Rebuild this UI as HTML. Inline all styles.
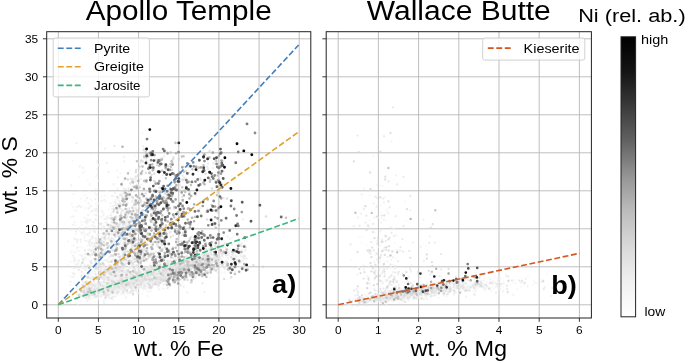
<!DOCTYPE html>
<html><head><meta charset="utf-8"><title>fig</title>
<style>html,body{margin:0;padding:0;background:#fff}svg{display:block;will-change:transform}text{font-family:"Liberation Sans",sans-serif;fill:#000}</style></head><body>
<svg width="685" height="362" viewBox="0 0 685 362">
<rect width="685" height="362" fill="#fff"/>
<defs>
<clipPath id="ca"><rect x="46.7" y="31.7" width="264.1" height="286.3"/></clipPath>
<clipPath id="cb"><rect x="326.2" y="31.7" width="265.2" height="286.3"/></clipPath>
<linearGradient id="cg" x1="0" y1="0" x2="0" y2="1"><stop offset="0" stop-color="#000"/><stop offset="0.125" stop-color="#141414"/><stop offset="0.25" stop-color="#3b3b3b"/><stop offset="0.375" stop-color="#636363"/><stop offset="0.5" stop-color="#959595"/><stop offset="0.625" stop-color="#bdbdbd"/><stop offset="0.75" stop-color="#d9d9d9"/><stop offset="0.875" stop-color="#f0f0f0"/><stop offset="1" stop-color="#fff"/></linearGradient>
</defs>
<path d="M58.30 31.7V318.0M98.45 31.7V318.0M138.60 31.7V318.0M178.75 31.7V318.0M218.90 31.7V318.0M259.05 31.7V318.0M299.20 31.7V318.0M46.7 304.80H310.8M46.7 266.80H310.8M46.7 228.80H310.8M46.7 190.80H310.8M46.7 152.80H310.8M46.7 114.80H310.8M46.7 76.80H310.8M46.7 38.80H310.8M338.20 31.7V318.0M378.40 31.7V318.0M418.60 31.7V318.0M458.80 31.7V318.0M499.00 31.7V318.0M539.20 31.7V318.0M579.40 31.7V318.0M326.2 304.80H591.4M326.2 266.80H591.4M326.2 228.80H591.4M326.2 190.80H591.4M326.2 152.80H591.4M326.2 114.80H591.4M326.2 76.80H591.4M326.2 38.80H591.4" stroke="#b8b8b8" stroke-width="0.9" fill="none"/>
<g clip-path="url(#ca)" fill="none" stroke-linecap="round">
<path stroke="rgb(251,251,251)" stroke-opacity="0.7" stroke-width="2.14" d="M120.5 281.7h0M125.5 288.5h0M116.9 289.6h0M97.1 291.5h0M117.6 284.5h0M117.4 294.7h0M125.5 284.8h0M131.6 278.7h0M131.2 279.6h0M133.4 270.6h0M94.7 293.6h0M121.4 281.3h0M113.3 283.7h0M102.9 293.4h0M138.1 282.2h0M164.2 273.5h0M106.6 290.1h0M131.6 279.8h0M124.7 275.9h0M118.1 294.4h0M123.1 279.2h0M123.8 280.1h0M113.1 291.4h0M107.2 296.0h0M155.1 277.8h0M101.7 296.9h0M124.4 279.8h0M135.3 281.1h0M124.1 295.5h0M107.2 290.4h0M124.2 281.3h0M108.2 292.6h0M144.3 277.4h0M130.7 280.6h0M121.8 288.4h0M157.2 269.4h0M127.7 277.0h0M128.3 277.2h0M126.3 278.7h0M131.5 276.0h0M85.5 295.5h0M112.8 287.2h0M95.1 292.5h0M144.5 274.6h0M140.2 287.5h0M142.6 282.9h0M115.8 279.3h0M145.7 273.4h0M126.7 285.3h0M129.4 285.3h0M143.4 281.1h0M242.7 244.2h0M131.2 285.0h0M104.6 287.9h0M138.8 285.8h0M105.5 286.8h0M133.1 284.3h0M98.1 290.5h0M111.1 282.8h0M139.3 283.1h0M95.4 295.4h0M129.0 277.5h0M136.6 284.5h0M119.4 293.3h0M114.4 290.6h0M106.1 291.0h0M94.2 293.2h0M137.5 281.1h0M108.3 295.9h0M92.2 295.3h0M82.9 297.5h0M117.7 285.7h0M161.6 274.2h0M121.0 288.2h0M131.2 286.1h0M99.1 286.1h0M130.4 285.2h0M137.8 293.0h0M123.4 287.6h0M142.3 271.1h0M91.3 298.6h0M99.3 292.5h0M129.5 294.7h0M127.1 293.8h0M120.0 286.9h0M141.8 279.3h0M127.2 283.7h0M138.8 284.7h0M107.7 283.2h0M92.1 298.6h0M129.9 277.1h0M100.0 287.8h0M177.9 266.1h0M139.6 282.7h0M72.8 297.1h0M129.6 279.0h0M173.8 274.4h0M148.7 273.1h0M140.0 277.6h0M127.1 277.8h0M83.7 264.8h0M104.7 292.1h0M99.8 292.0h0M78.3 285.2h0M91.8 293.6h0M170.2 276.0h0M113.4 288.7h0M116.7 288.2h0M126.0 289.0h0M122.7 284.8h0M128.1 281.3h0M131.0 283.6h0M76.5 299.0h0M245.3 261.7h0M106.9 287.7h0M98.7 298.1h0M125.9 272.7h0M149.1 268.0h0M93.0 267.8h0M101.0 277.2h0M93.7 271.1h0M155.9 270.2h0M241.5 258.4h0M85.7 207.0h0M127.9 281.2h0M124.5 290.6h0M113.0 256.3h0M211.1 266.8h0M137.2 291.9h0M96.7 290.9h0M134.5 284.2h0M131.9 273.2h0M163.4 272.6h0"/>
<path stroke="rgb(244,244,244)" stroke-opacity="0.7" stroke-width="2.22" d="M114.0 282.4h0M140.3 283.1h0M132.0 280.4h0M106.5 287.9h0M89.7 299.2h0M149.1 280.5h0M98.9 294.3h0M125.0 231.3h0M138.2 285.8h0M96.1 205.7h0M131.7 217.5h0M107.8 286.1h0M100.5 293.9h0M152.4 281.4h0M85.7 291.2h0M226.4 262.1h0M83.7 237.8h0M90.0 185.3h0M125.6 267.8h0M112.3 283.3h0M146.0 271.6h0M107.7 289.0h0M118.0 290.8h0M117.1 287.4h0M106.3 273.0h0M93.3 237.9h0M140.3 285.7h0M127.3 278.4h0M137.3 274.5h0M149.8 273.6h0M95.7 242.4h0M137.3 271.6h0M107.6 288.4h0M147.7 279.2h0M115.8 290.1h0M156.6 279.4h0M166.7 278.6h0M102.9 285.6h0M245.1 240.7h0M166.8 288.7h0M236.8 262.4h0M101.3 236.1h0M133.3 286.3h0M148.3 273.0h0M122.5 280.7h0M146.0 276.1h0M128.5 274.3h0M242.8 252.1h0M124.8 285.6h0M121.7 279.6h0M121.2 271.8h0M118.8 288.3h0M157.5 281.4h0M244.1 256.5h0M75.1 264.3h0M141.3 280.0h0M118.4 283.5h0M111.3 212.8h0M91.5 265.7h0M133.6 281.2h0M224.5 252.2h0M207.8 265.9h0M152.7 272.3h0M126.1 289.6h0M106.7 281.7h0M128.1 286.7h0M122.2 285.7h0M150.4 277.3h0M120.0 279.8h0M180.3 265.3h0M91.6 296.8h0M84.2 297.2h0M158.2 267.5h0M127.2 277.5h0M140.6 276.7h0M232.5 236.8h0M154.0 267.0h0M127.7 221.4h0M128.5 270.1h0M85.0 295.0h0M110.4 251.0h0M162.2 264.5h0M129.2 292.6h0M113.7 225.3h0M90.4 207.0h0M122.8 282.4h0M149.5 278.9h0M142.1 268.5h0M120.3 290.1h0M130.1 283.6h0M97.5 245.4h0M176.3 275.1h0M146.0 274.8h0M107.0 253.3h0M146.8 284.2h0M113.8 287.2h0M113.8 267.3h0M216.0 264.4h0M102.2 284.3h0M106.5 287.6h0M127.7 215.5h0M104.6 288.8h0M231.0 250.7h0M175.2 265.8h0M131.9 280.8h0M152.7 280.2h0M120.9 286.5h0M136.2 286.4h0M114.5 286.8h0M144.9 282.7h0M140.2 274.0h0M92.5 289.2h0M145.0 275.3h0M158.1 277.2h0M140.9 285.8h0M88.6 219.8h0M146.4 279.2h0M147.3 295.9h0M132.7 283.2h0M111.7 291.7h0M90.3 211.8h0M77.8 291.1h0M109.1 297.6h0M81.3 296.3h0M114.9 258.6h0M242.5 254.4h0M124.9 286.0h0M145.5 274.7h0M137.4 268.7h0M228.0 257.3h0M121.7 291.4h0M138.9 269.7h0M158.4 262.9h0M115.9 288.3h0M143.4 278.9h0M133.6 284.9h0M111.0 293.7h0M97.1 290.2h0M193.8 255.8h0M177.5 271.3h0M115.4 286.1h0M139.8 285.9h0M124.5 284.2h0M117.3 276.6h0M122.5 289.2h0M128.4 263.9h0M113.8 283.3h0M124.8 282.4h0M111.5 292.1h0M104.3 286.2h0M203.4 260.4h0M99.5 291.0h0M113.2 249.1h0M98.4 294.5h0M146.4 274.3h0M147.1 276.9h0M90.9 199.6h0M147.3 275.4h0M108.4 293.2h0M225.9 250.2h0M117.8 295.2h0M149.9 281.9h0M99.1 255.1h0M180.0 284.5h0M107.5 238.2h0M138.2 287.0h0M132.3 242.4h0M134.7 282.4h0M81.6 247.2h0M126.3 285.3h0M99.7 225.4h0M133.0 286.9h0M148.5 276.8h0M81.5 233.9h0M138.3 288.4h0M139.5 225.2h0M76.8 291.6h0M155.6 280.4h0M136.3 237.4h0M92.4 291.8h0M131.5 236.4h0M125.8 276.1h0M74.3 261.7h0M118.7 287.9h0M106.8 285.4h0M75.7 225.5h0M153.6 275.0h0M140.4 275.0h0M126.3 280.0h0M135.3 279.1h0M157.2 281.0h0M143.0 280.9h0M142.3 281.3h0M195.2 264.0h0M121.1 289.2h0M154.0 276.0h0M146.1 287.1h0M155.9 284.0h0M125.2 288.9h0M112.4 245.5h0M76.5 289.1h0M137.0 279.4h0M118.1 217.3h0M120.3 247.5h0M133.8 289.3h0M102.8 255.1h0M101.7 226.9h0M149.0 284.6h0M99.2 295.8h0M94.1 266.7h0M142.9 268.2h0M168.7 270.5h0M143.4 286.0h0M122.5 282.6h0M178.0 266.4h0M160.5 271.1h0M143.3 281.3h0M83.4 285.4h0M227.3 255.7h0M149.6 283.6h0M245.0 244.9h0M235.1 254.9h0M130.6 287.7h0M81.0 300.9h0M239.8 262.8h0M127.8 291.2h0M125.9 281.1h0M119.5 277.0h0M120.3 279.7h0M115.7 294.5h0M102.4 244.8h0M127.1 280.0h0M168.3 263.7h0M76.5 250.3h0M113.5 299.9h0M89.5 294.7h0M142.9 275.4h0M120.5 290.6h0M96.5 293.3h0M147.2 280.0h0M112.2 296.4h0M119.2 279.7h0M96.2 255.0h0M94.9 285.1h0M130.8 276.2h0M135.6 286.4h0M113.8 279.5h0M98.7 287.7h0M114.1 287.5h0M121.5 284.1h0M128.3 275.1h0M142.6 249.5h0M111.3 288.3h0M107.5 288.8h0M83.8 217.7h0M118.1 289.0h0M129.6 242.0h0M84.4 289.8h0M126.4 290.3h0M110.7 206.4h0M139.5 279.0h0M133.2 276.5h0M148.4 278.4h0M101.8 286.7h0M119.1 290.2h0M104.4 286.3h0M157.4 276.1h0M96.8 194.3h0M151.9 277.2h0M110.2 288.0h0M110.0 294.8h0M134.7 279.4h0M196.5 256.1h0M97.9 299.6h0M119.3 283.6h0M206.8 271.1h0M132.8 279.0h0M225.6 247.6h0M96.1 176.4h0M173.5 262.5h0M235.1 253.1h0M111.2 235.4h0M123.1 249.9h0M87.1 293.2h0M246.5 268.8h0M68.6 264.5h0M142.3 288.6h0M117.3 253.7h0M136.0 267.4h0M142.4 268.6h0M95.0 231.7h0M145.6 270.5h0M103.5 295.4h0M171.1 265.3h0M73.5 194.0h0M153.5 267.2h0M117.6 279.8h0M107.7 261.2h0M113.6 281.0h0M237.4 260.1h0M153.1 274.1h0M135.6 195.4h0M146.9 238.3h0M140.8 271.7h0M160.3 276.4h0M88.4 295.5h0M85.7 298.6h0M160.1 281.7h0M98.4 296.6h0M144.6 201.8h0M108.0 291.1h0M136.1 276.1h0M165.1 283.7h0M167.7 266.3h0M80.0 287.2h0M131.0 280.2h0M144.6 269.8h0M119.2 288.9h0M121.7 289.2h0M151.5 282.6h0M149.4 267.4h0M162.0 269.1h0M129.5 282.3h0M142.3 276.0h0M223.2 257.4h0M246.1 241.2h0M233.8 251.6h0M104.1 292.9h0M173.4 279.2h0M103.3 215.9h0M102.1 263.6h0M147.5 281.9h0M80.6 198.9h0M154.5 273.0h0M107.3 283.9h0M225.9 253.0h0M104.0 266.2h0M155.0 271.1h0M139.9 271.3h0M149.1 280.1h0M186.4 276.3h0M132.7 279.8h0M84.0 298.1h0M167.8 273.1h0M93.6 295.8h0M98.5 275.5h0M216.8 258.6h0M121.9 284.8h0M90.5 289.1h0M106.2 201.5h0M119.1 290.9h0M138.1 229.6h0M150.6 285.6h0M166.1 268.8h0M84.6 195.2h0M71.8 277.1h0M117.5 282.7h0M130.7 281.8h0M136.3 289.5h0M158.5 279.1h0M71.2 217.2h0M134.2 282.2h0M88.7 293.6h0M88.1 297.8h0M124.6 284.9h0M181.3 263.8h0M116.3 283.3h0M100.2 282.8h0M120.9 284.0h0M91.0 287.9h0M106.4 293.9h0M122.4 285.3h0M113.9 287.4h0M141.0 272.0h0M117.0 281.7h0M100.6 143.9h0M143.3 276.8h0M131.5 282.4h0M72.0 203.9h0M89.8 183.9h0M104.0 251.5h0M207.7 272.5h0M116.0 291.4h0M205.8 250.1h0M164.1 275.4h0M164.4 268.5h0M111.8 287.9h0M77.4 295.6h0M146.0 288.5h0M132.5 281.1h0M116.1 289.5h0M128.3 279.2h0M81.3 221.7h0M149.8 269.6h0M121.3 285.5h0M189.9 270.2h0M115.2 255.4h0M116.8 291.6h0M123.9 267.7h0M244.8 251.2h0M84.4 240.2h0M87.9 275.8h0M125.5 286.7h0M74.5 257.6h0M119.7 281.9h0M134.7 155.5h0M149.2 281.3h0M121.2 268.7h0M159.7 270.9h0M135.2 251.2h0M160.9 279.7h0M101.0 216.5h0M128.0 282.0h0M137.9 265.4h0M122.7 287.0h0M123.7 282.3h0M130.6 283.0h0M131.7 285.4h0M93.8 297.0h0M224.8 272.4h0M161.1 281.9h0M109.4 283.4h0M154.7 278.4h0M111.6 280.3h0M159.0 285.1h0M151.1 272.2h0M155.6 280.3h0M116.5 288.3h0M81.5 224.9h0M112.8 282.2h0M128.1 278.1h0M89.5 235.8h0M89.1 222.2h0M88.3 292.9h0M162.3 282.0h0M145.2 282.7h0M120.1 226.4h0M134.6 252.4h0M132.7 276.2h0M243.6 244.4h0M86.8 268.2h0M86.2 290.6h0M142.5 133.1h0M161.6 265.7h0M218.0 270.5h0M89.4 248.8h0M76.7 260.6h0M116.0 284.1h0M185.4 276.7h0M193.6 258.9h0M132.2 280.1h0M153.8 271.0h0M75.4 252.7h0M88.6 265.8h0M144.9 267.5h0M112.5 290.1h0M168.7 274.3h0M217.2 262.3h0M114.4 240.6h0M151.4 288.5h0M149.2 282.2h0M168.5 274.8h0M106.5 219.2h0M92.7 288.3h0M148.7 283.3h0M110.3 289.7h0M110.8 283.9h0M113.4 286.9h0M115.7 293.4h0M90.2 250.9h0M92.4 293.8h0M106.1 287.6h0M153.4 277.6h0M112.0 287.1h0M124.3 294.5h0M139.1 280.0h0M226.0 267.2h0M162.4 275.0h0M86.2 299.5h0M143.6 288.3h0M142.2 293.8h0M116.1 277.1h0M142.2 283.6h0M152.1 273.2h0M128.6 267.6h0M138.0 258.6h0M163.2 273.9h0M101.6 264.8h0M143.0 290.0h0M115.6 282.6h0M102.6 268.3h0M166.7 271.2h0M130.0 279.0h0M161.0 279.0h0M213.7 258.6h0M140.8 277.9h0M162.8 260.5h0M105.6 282.7h0M123.7 180.1h0M119.1 203.1h0M109.9 231.4h0M129.6 282.1h0M144.1 279.1h0M130.2 287.1h0M102.0 196.5h0M139.2 271.5h0M71.1 252.3h0M70.8 261.9h0M160.8 273.1h0M92.8 293.8h0M148.4 279.0h0M113.5 290.0h0M152.8 277.8h0M145.7 279.9h0M94.5 253.4h0M155.6 280.8h0M113.0 294.0h0M104.8 284.3h0M229.0 264.8h0M234.5 252.7h0M122.2 215.5h0M146.0 277.8h0M124.9 289.3h0M105.8 289.0h0M114.0 196.3h0M137.3 268.0h0M99.1 234.4h0M95.6 296.9h0M98.7 165.2h0M148.0 247.9h0M117.4 282.2h0M122.7 277.9h0M140.4 279.1h0M126.6 275.7h0M121.7 209.3h0M117.4 280.6h0M106.9 288.7h0M145.9 280.5h0M127.0 283.0h0M107.2 292.6h0M137.4 278.5h0M80.4 255.0h0M88.6 242.2h0M155.9 277.2h0M198.5 273.4h0M108.9 239.3h0M179.3 260.6h0M118.7 280.4h0M123.9 232.6h0M115.6 206.4h0M140.5 251.0h0M165.6 284.5h0M107.9 283.6h0M142.3 265.3h0M126.0 286.5h0M115.0 272.2h0M131.5 274.6h0M104.8 264.7h0M136.5 286.6h0M105.8 297.2h0M89.2 226.4h0M150.4 283.6h0M89.6 277.7h0M95.8 287.6h0M118.6 260.6h0M119.0 288.1h0M89.8 230.8h0M142.6 196.8h0M155.8 273.8h0M159.9 269.7h0M237.6 247.7h0M82.2 255.4h0M132.2 283.4h0M177.1 269.0h0M141.6 283.4h0M97.0 265.2h0M129.7 281.8h0M110.7 291.4h0M119.1 268.5h0M91.7 273.2h0M152.1 276.5h0M235.0 259.6h0M108.8 290.3h0M139.7 280.4h0M91.6 277.9h0M144.0 275.7h0M84.9 208.5h0M99.1 180.8h0M130.1 267.2h0M140.7 286.8h0M113.9 290.0h0M109.3 251.1h0M160.6 272.8h0M114.6 288.8h0M106.6 286.4h0M103.8 289.6h0M103.7 286.1h0M102.0 210.0h0M107.7 265.6h0M146.2 279.5h0M103.9 280.5h0M238.3 256.7h0M89.8 281.0h0M126.9 287.2h0M154.8 272.4h0M105.5 284.3h0M111.5 209.2h0M131.7 287.0h0M141.0 263.8h0M140.7 282.0h0M96.0 241.1h0M124.1 292.5h0M119.8 247.8h0M131.5 276.4h0M136.6 279.5h0M199.0 249.3h0M92.5 282.4h0M130.6 281.7h0M83.7 272.7h0M91.5 284.9h0M117.9 287.0h0M108.0 282.7h0M99.7 262.5h0M97.9 290.8h0M105.3 288.8h0M103.2 291.8h0M200.8 252.1h0M129.6 170.9h0M110.0 279.5h0M123.8 204.9h0M153.6 270.0h0M133.3 181.5h0M151.5 280.6h0M83.0 289.7h0M69.4 275.9h0M222.3 240.4h0M105.1 292.6h0M111.5 291.4h0M127.1 275.7h0M139.1 206.6h0M72.2 250.9h0M124.8 254.5h0M123.0 188.4h0M86.6 218.4h0M238.7 250.0h0M115.4 287.8h0M231.5 259.3h0M151.4 249.8h0M179.7 267.6h0M167.1 274.2h0M152.3 268.4h0M144.0 278.4h0M111.0 288.0h0M158.9 275.8h0M145.7 272.2h0M147.2 282.2h0M101.8 265.3h0M147.0 287.9h0M110.7 288.4h0M233.8 258.8h0M93.4 277.0h0M142.2 274.6h0M94.1 297.9h0M158.8 276.7h0M167.6 265.2h0M142.4 277.8h0M149.3 268.4h0M156.6 276.6h0M123.5 277.8h0M112.2 275.4h0M138.4 280.7h0M150.1 217.3h0M120.2 287.7h0M107.5 283.9h0M92.8 293.2h0M179.7 262.8h0M235.8 248.3h0M111.3 267.4h0M158.1 264.6h0M85.3 200.4h0M136.5 286.0h0M140.3 273.5h0M143.1 277.3h0M122.8 284.2h0M122.5 242.7h0M102.8 291.6h0M193.5 256.1h0M182.0 272.5h0M151.3 272.5h0M135.3 281.2h0M101.9 248.1h0M122.8 268.1h0M88.9 191.5h0M139.6 283.7h0M125.0 264.2h0M164.3 272.3h0M120.9 279.1h0M222.6 261.7h0M147.4 282.4h0M90.1 295.9h0M195.0 264.0h0M151.8 280.0h0M182.4 268.4h0M78.7 263.0h0M153.2 273.1h0M83.8 238.0h0M78.3 299.9h0M115.5 281.4h0M203.0 259.8h0M107.7 274.7h0M87.5 180.7h0M194.1 261.4h0M140.4 192.5h0M120.2 287.9h0M120.6 173.2h0M130.3 197.9h0M132.6 281.0h0M160.6 263.9h0M118.0 291.7h0M79.3 255.0h0M137.2 168.8h0M215.4 257.5h0M115.4 279.8h0M116.7 219.8h0M133.0 276.7h0M204.0 255.2h0M119.1 198.8h0M146.5 280.7h0M150.0 247.5h0M158.0 263.4h0M134.2 284.8h0M135.4 249.9h0M196.8 272.9h0M102.0 236.2h0M105.7 282.9h0M156.4 251.3h0M113.4 285.3h0M126.1 274.9h0M159.6 278.7h0M121.1 280.6h0M74.2 252.8h0M142.7 154.9h0M106.0 287.3h0M119.5 287.1h0M83.9 231.1h0M110.8 212.3h0M119.5 251.2h0M160.9 278.1h0M115.8 288.3h0M129.5 282.8h0M91.3 286.7h0M155.4 277.9h0M165.4 280.8h0M104.7 237.4h0M222.1 266.9h0M132.1 276.4h0M122.3 291.9h0M144.7 256.1h0M149.6 266.4h0M100.9 244.0h0M133.0 249.8h0M128.5 285.8h0M151.2 272.9h0M79.6 230.7h0M137.7 285.9h0M79.1 282.7h0M88.9 260.5h0M94.1 214.6h0M171.6 255.3h0M141.9 205.3h0M124.1 280.5h0M158.1 275.1h0M125.1 283.6h0M155.3 272.2h0M108.7 270.8h0M161.1 266.6h0M101.2 282.0h0M105.1 276.7h0M83.9 233.0h0M161.9 276.7h0M86.2 253.0h0M102.3 225.9h0M84.4 267.2h0M122.7 284.3h0M132.5 276.6h0M169.4 267.6h0M147.6 291.3h0M107.1 294.4h0M96.3 295.3h0M92.1 289.6h0M240.2 262.3h0M156.4 275.8h0M114.5 293.1h0M122.7 274.0h0M142.3 266.1h0M144.2 278.7h0M112.2 243.6h0M94.7 292.0h0M97.9 243.8h0M85.7 218.0h0M224.0 253.5h0M116.2 276.7h0M199.7 258.3h0M128.0 280.7h0M79.8 206.2h0M90.6 280.4h0M145.0 279.2h0M118.3 279.5h0M104.7 289.4h0M94.1 279.8h0M128.9 271.0h0M107.9 289.3h0M87.1 294.7h0M108.9 257.6h0M163.9 270.6h0M105.7 292.3h0M159.1 282.1h0M221.7 272.6h0M118.6 286.7h0M160.5 274.5h0M101.3 283.1h0M216.7 250.0h0M148.7 282.1h0M152.1 282.3h0M144.6 282.3h0M132.8 286.5h0M91.9 243.8h0M123.2 283.5h0M140.6 278.1h0M136.8 276.9h0M137.5 278.4h0M127.7 288.0h0M95.4 218.5h0M161.3 274.8h0M125.1 290.5h0M72.3 245.7h0M117.0 273.9h0M173.8 283.2h0M119.7 281.3h0M106.6 286.2h0M181.3 258.8h0M181.2 271.2h0M122.8 287.5h0M124.1 290.3h0M111.9 274.7h0M149.6 276.6h0M124.5 279.2h0M238.9 237.3h0M160.6 276.2h0M164.2 271.7h0M153.4 282.1h0M102.5 233.5h0M139.4 249.6h0M138.1 274.8h0M126.1 281.1h0M94.9 244.8h0M194.1 265.1h0M148.6 272.3h0M110.3 292.7h0M116.7 286.9h0M191.8 257.9h0M140.9 280.5h0M210.8 254.0h0M131.7 266.2h0M117.5 274.6h0M77.2 243.1h0M110.7 281.8h0M178.6 264.8h0M156.5 257.4h0M197.5 268.3h0M156.8 270.9h0M141.9 254.2h0M108.5 279.6h0M97.5 287.8h0M157.2 267.9h0M92.6 211.3h0M96.4 295.0h0M131.2 287.6h0M100.9 295.8h0M130.3 284.8h0M158.2 266.8h0M139.3 287.2h0M121.1 264.4h0M178.4 257.6h0M162.3 257.5h0M162.1 272.5h0M97.6 213.9h0M114.3 260.6h0M90.0 230.6h0M100.7 287.9h0M99.2 287.4h0M132.2 280.5h0M178.7 256.2h0M127.7 285.6h0M200.0 260.6h0M159.0 276.3h0M144.4 280.6h0M108.7 209.3h0M129.8 266.5h0M178.5 281.1h0M79.0 251.2h0M117.1 280.2h0M121.8 283.7h0M122.9 285.2h0M161.6 275.7h0M107.3 287.8h0M85.1 233.5h0M98.1 251.9h0M210.9 269.8h0M97.0 274.5h0M102.9 288.8h0M149.0 270.0h0M121.4 272.2h0M152.4 273.0h0M79.2 176.8h0M131.6 271.4h0M186.6 277.8h0M163.0 270.9h0M143.4 285.1h0M157.1 281.3h0M156.5 281.2h0M149.9 276.7h0M130.1 286.3h0M172.6 267.0h0M130.9 278.6h0M128.3 281.2h0M160.0 278.1h0M233.5 270.0h0M146.4 275.1h0M124.8 287.8h0M140.4 283.9h0M90.1 262.5h0M114.2 284.2h0M95.9 203.2h0M227.4 259.9h0M123.5 261.1h0M132.5 212.1h0M142.7 259.3h0M157.6 267.3h0M168.7 281.5h0M138.4 278.5h0M229.3 272.0h0M224.0 244.6h0M168.0 262.4h0M150.2 263.9h0M205.0 269.3h0M136.9 275.2h0M97.2 286.9h0M129.7 284.4h0M137.7 199.4h0M116.3 215.9h0M113.6 262.8h0M88.9 277.5h0M142.7 271.6h0M153.0 275.7h0M159.5 271.0h0M107.8 290.4h0M91.5 275.3h0M80.3 240.1h0M102.4 256.2h0M115.9 286.5h0M218.5 263.2h0M105.4 255.5h0M112.8 286.3h0M119.5 240.4h0M152.8 278.8h0M227.9 258.4h0M109.3 259.0h0M148.9 279.7h0M119.7 279.1h0M151.1 276.1h0M108.3 286.6h0M109.9 282.6h0M160.3 275.2h0M94.2 266.0h0M122.2 217.0h0M76.1 233.9h0M106.7 271.5h0M132.3 271.1h0M143.9 275.1h0M153.0 274.5h0M150.5 278.1h0M121.3 284.7h0M112.9 266.4h0M131.3 262.1h0M87.1 265.3h0M132.3 280.9h0M236.2 265.5h0M74.5 210.4h0M131.5 267.6h0M161.5 274.0h0M150.7 278.2h0M137.5 285.3h0M114.0 292.6h0M109.7 240.0h0M138.7 233.2h0M72.8 206.9h0M126.9 289.3h0M127.0 288.5h0M161.8 268.9h0M228.7 250.8h0M105.9 286.8h0M156.6 276.2h0M148.4 272.7h0M131.0 284.1h0M174.0 266.5h0M122.0 217.3h0M157.9 283.9h0M93.6 287.9h0M120.0 253.8h0M96.8 296.6h0M233.2 256.2h0M129.9 285.5h0M87.7 245.8h0M141.6 252.5h0M106.6 259.4h0M163.1 267.4h0M73.9 245.3h0M106.1 286.5h0M165.6 277.5h0M144.9 274.9h0M122.7 284.2h0M145.9 273.7h0M84.8 294.5h0M144.1 277.4h0M98.6 296.0h0M103.6 239.6h0M99.5 277.3h0M161.5 270.6h0M148.2 278.3h0M94.7 193.1h0M91.5 269.4h0M129.2 285.9h0M158.9 278.9h0M96.0 283.8h0M84.4 234.9h0M157.9 244.6h0M126.4 277.6h0M119.1 289.6h0M114.5 267.2h0M82.2 294.3h0M159.2 273.8h0M91.6 276.6h0M105.4 288.2h0M167.0 267.6h0M149.6 281.2h0M162.7 272.3h0M221.7 264.5h0M185.3 262.8h0M145.3 279.4h0M147.6 285.0h0M89.5 284.8h0M89.3 290.6h0M119.4 288.6h0M111.3 256.9h0M131.8 202.6h0M112.9 222.3h0M235.0 261.9h0M134.7 213.8h0M86.6 274.5h0M88.7 295.1h0M134.8 215.2h0M150.0 191.3h0M164.7 266.5h0M116.8 292.4h0M185.8 271.2h0M100.4 270.8h0M142.7 251.1h0M151.8 278.3h0M105.6 286.8h0M138.7 275.8h0M149.5 256.7h0M124.9 251.0h0M141.3 287.0h0M120.4 286.0h0M168.8 276.6h0M112.9 280.9h0M108.4 232.8h0M131.9 250.7h0M151.3 287.0h0M152.8 273.6h0M123.9 285.5h0M164.3 269.6h0M148.7 282.9h0M104.7 195.9h0M218.1 247.2h0M125.7 271.6h0M117.1 170.6h0M166.7 263.8h0M143.4 270.5h0M133.6 284.3h0M117.6 284.0h0M112.7 289.5h0M160.7 257.9h0M85.1 250.2h0M217.0 273.0h0M155.0 278.5h0M176.8 279.9h0M136.9 265.4h0M124.8 288.9h0M143.9 279.4h0M130.6 213.6h0M137.6 279.1h0M137.9 275.9h0M97.8 264.9h0M82.2 266.7h0M206.8 265.9h0M120.4 282.7h0M90.5 286.6h0M92.3 282.3h0M83.7 259.7h0M123.9 237.1h0M94.5 291.2h0M161.2 276.8h0M158.4 255.9h0M148.8 291.6h0M209.2 259.8h0M132.6 287.8h0M147.4 272.2h0M144.0 280.1h0M148.9 279.0h0M193.1 273.7h0M234.9 271.9h0M196.1 255.8h0M102.6 291.9h0M154.3 274.2h0M78.8 247.1h0M231.2 260.3h0M104.8 249.9h0M86.4 259.6h0M81.8 269.3h0M163.0 274.9h0M87.7 297.0h0M175.4 270.5h0M234.9 253.6h0M148.8 279.5h0M154.0 275.1h0M129.0 251.8h0M119.8 289.4h0M86.3 296.0h0M111.7 289.3h0M111.0 271.1h0M94.1 288.2h0M125.4 285.7h0M238.7 245.5h0M151.0 279.0h0M92.1 262.5h0M111.3 273.3h0M137.7 283.2h0M172.8 275.3h0M123.7 287.6h0M142.4 175.1h0M97.7 230.5h0M139.2 244.8h0M127.0 285.7h0M166.3 282.2h0M229.2 248.3h0M159.7 270.0h0M132.2 277.7h0M100.8 283.4h0M174.0 274.0h0M146.5 289.1h0M137.4 278.3h0M83.2 292.3h0M83.2 294.6h0M148.1 241.5h0M163.9 211.1h0M102.2 269.0h0M214.2 253.2h0M90.0 274.4h0M144.3 285.9h0M112.0 261.8h0M92.5 272.6h0M117.2 289.3h0M143.3 282.9h0M149.2 234.4h0M163.6 271.7h0M96.2 269.2h0M130.7 258.2h0M133.6 236.0h0M139.7 270.4h0M92.9 236.7h0M148.6 244.9h0M242.6 249.6h0M122.5 227.3h0M97.7 261.3h0M171.6 275.2h0M133.5 239.3h0M111.3 219.9h0M183.1 265.7h0M128.3 222.7h0M119.6 207.2h0M189.6 267.5h0M146.1 279.4h0M114.2 207.6h0M122.7 283.7h0M89.8 288.1h0M146.4 277.7h0M103.2 228.1h0M80.3 294.5h0M100.6 291.8h0M90.7 154.6h0M101.3 282.6h0M124.5 227.2h0M116.9 262.0h0M140.5 284.5h0M143.5 275.5h0M125.0 268.2h0M159.4 280.7h0M112.6 289.9h0M140.5 274.7h0M128.8 272.3h0M121.2 287.3h0M151.0 277.7h0M126.2 288.2h0M144.8 284.0h0M207.6 260.3h0M95.8 276.7h0M98.1 266.1h0M200.4 272.6h0M128.2 272.7h0M100.6 240.6h0M153.4 281.3h0M132.3 281.5h0M76.2 211.2h0M216.5 257.7h0M69.8 285.1h0M106.8 286.1h0M147.2 276.9h0M156.9 275.3h0M181.3 189.2h0M94.1 223.1h0M133.0 277.4h0M142.8 276.4h0M183.0 282.4h0M158.6 273.8h0M159.8 268.7h0M117.9 256.8h0M96.0 195.1h0M120.4 275.2h0M150.6 291.0h0M123.6 291.2h0M122.2 281.4h0M162.2 261.3h0M223.8 240.9h0M235.3 240.6h0M176.3 269.4h0M239.1 250.7h0M158.0 287.5h0M146.0 278.5h0M97.2 248.4h0M196.1 259.7h0M217.6 261.3h0M142.8 276.7h0M93.6 282.7h0M165.5 271.4h0M108.0 283.8h0M97.3 277.9h0M232.8 251.9h0M153.5 285.7h0M115.6 274.3h0M213.4 254.7h0M112.9 256.3h0M98.7 203.5h0M101.2 269.5h0M138.1 275.7h0M114.2 269.5h0M154.3 274.8h0M154.1 279.0h0M160.4 271.3h0M141.2 253.9h0M102.4 285.9h0M186.3 271.1h0M137.8 273.1h0M127.8 258.6h0M143.0 278.5h0M70.4 230.1h0M146.9 285.5h0M121.7 283.2h0M83.8 171.7h0M148.3 269.6h0M72.4 160.8h0M196.1 258.3h0M104.4 271.8h0M155.0 259.7h0M139.1 280.0h0M171.3 268.9h0M98.6 270.4h0M173.7 267.5h0M164.6 272.9h0M106.3 221.8h0M223.6 246.3h0M142.1 273.3h0M131.5 285.2h0M97.3 237.7h0M81.0 242.2h0M141.2 278.2h0M144.4 284.6h0M100.8 224.2h0M226.2 250.1h0M94.2 230.8h0M159.1 273.8h0M137.0 285.7h0M170.7 273.0h0M140.5 283.8h0M149.7 276.4h0M103.3 261.2h0M152.5 267.7h0M121.5 288.9h0M147.8 268.0h0M68.1 241.5h0M122.7 281.4h0M84.6 236.5h0M135.9 273.1h0M212.9 262.6h0M100.2 291.3h0M160.5 273.7h0M166.5 276.2h0M115.3 279.2h0M92.9 230.5h0M163.1 275.4h0M212.0 264.0h0M162.5 273.9h0M122.9 186.1h0M156.4 270.0h0M170.6 270.1h0M120.1 271.1h0M119.2 281.4h0M154.9 265.8h0M155.7 282.4h0M115.7 282.7h0M165.2 270.3h0M121.7 185.4h0M170.2 275.6h0M148.9 236.1h0M154.5 278.2h0M129.7 277.8h0M122.6 281.4h0M90.0 292.0h0M140.2 273.9h0M82.9 267.9h0M154.0 278.4h0M174.6 279.4h0M126.3 282.2h0M123.5 204.0h0M166.3 256.3h0M115.0 261.6h0M106.5 289.7h0M98.7 296.4h0M158.5 280.9h0M138.4 287.3h0M149.5 284.3h0M121.1 240.0h0M133.2 273.3h0M90.7 272.6h0M125.4 284.2h0M84.6 297.0h0M78.3 262.2h0M135.6 221.9h0M185.2 266.2h0M182.7 272.0h0M132.7 291.6h0M172.8 277.8h0M227.9 250.9h0M102.1 291.4h0M74.9 273.4h0M109.1 265.1h0M210.1 277.7h0M95.6 302.0h0M225.8 266.3h0M166.5 236.3h0M91.8 200.5h0M123.1 242.4h0M117.3 286.6h0M136.2 281.0h0M172.5 262.0h0M121.9 222.6h0M115.6 288.3h0M106.5 273.1h0M98.1 275.0h0M112.2 284.7h0M155.3 273.9h0M160.2 278.8h0M128.6 281.1h0M125.9 264.2h0M130.5 282.8h0M198.0 266.1h0M146.2 273.2h0M150.4 238.9h0M117.7 293.2h0M167.1 269.5h0M131.2 281.3h0M127.4 210.7h0M193.1 258.3h0M87.1 223.8h0M157.9 211.4h0M217.9 264.9h0M122.0 283.6h0M107.1 230.0h0M118.5 285.8h0M83.8 293.0h0M140.2 265.8h0M98.9 295.2h0M158.6 271.5h0M109.1 285.2h0M115.8 282.2h0M90.7 290.9h0M152.4 280.8h0M117.8 285.5h0M144.3 275.4h0M125.0 275.6h0M123.3 237.1h0M114.6 290.7h0M120.6 287.5h0M173.8 281.7h0M106.9 190.9h0M181.8 157.5h0M99.4 288.2h0M226.2 254.3h0M132.0 283.5h0M159.2 272.7h0M139.4 186.8h0M155.8 273.4h0M162.1 278.6h0M127.8 289.2h0M110.4 279.4h0M156.2 273.6h0M215.7 250.1h0M124.9 253.7h0M105.4 299.2h0M152.9 242.0h0M137.1 276.5h0M143.2 269.2h0M131.9 217.8h0M209.3 270.4h0M97.4 261.2h0M127.2 276.6h0M132.8 200.8h0M101.3 283.8h0M101.0 217.6h0M90.1 295.9h0M87.4 220.5h0M88.8 288.2h0M222.6 254.9h0M118.3 250.1h0M109.3 271.3h0M220.4 266.6h0M138.2 185.4h0M137.3 294.0h0M122.0 287.9h0M115.0 246.0h0M95.6 246.6h0M197.3 271.4h0M146.5 279.4h0M146.3 277.8h0M162.3 279.9h0M147.4 286.5h0M160.4 274.5h0M83.2 173.0h0M150.4 278.1h0M135.9 287.2h0M93.9 252.6h0M120.5 277.0h0M148.7 281.6h0M142.9 254.9h0M148.0 267.3h0M129.9 253.3h0M101.6 254.8h0M179.3 266.7h0M109.4 281.3h0M142.6 281.1h0M99.5 285.1h0M126.8 237.7h0M150.5 280.5h0M225.7 255.1h0M130.8 279.6h0M141.2 282.3h0M98.7 240.2h0M178.5 266.7h0M101.9 230.4h0M139.6 280.8h0M114.6 262.6h0M110.6 215.7h0M215.7 264.3h0M114.0 286.9h0M131.8 284.8h0M243.3 235.5h0M158.2 276.4h0M114.7 285.2h0M159.6 274.9h0M222.0 261.9h0M150.8 280.0h0M127.0 277.1h0"/>
<path stroke="rgb(234,234,234)" stroke-opacity="0.7" stroke-width="2.31" d="M131.4 280.0h0M136.1 181.7h0M170.1 275.4h0M120.5 278.5h0M161.7 277.8h0M155.9 198.9h0M113.5 184.3h0M134.1 229.5h0M126.6 245.8h0M226.5 255.3h0M199.3 249.0h0M173.5 272.3h0M196.9 256.7h0M131.0 277.0h0M148.5 286.6h0M194.5 272.5h0M78.8 205.9h0M126.9 282.4h0M115.3 245.0h0M174.6 270.1h0M133.7 271.6h0M132.9 236.9h0M101.7 250.9h0M164.6 269.6h0M178.1 264.6h0M137.0 276.6h0M140.6 273.2h0M140.0 278.1h0M208.1 264.6h0M172.1 272.7h0M140.3 279.0h0M101.1 296.7h0M98.6 269.2h0M132.2 264.3h0M164.1 259.2h0M92.1 236.7h0M164.9 276.5h0M105.6 282.8h0M158.6 262.4h0M111.2 286.9h0M220.5 258.9h0M141.3 281.2h0M166.6 269.5h0M79.6 289.5h0M100.8 288.3h0M121.6 272.8h0M116.0 203.4h0M105.5 235.3h0M140.7 277.3h0M161.2 249.0h0M107.6 292.4h0M81.7 255.8h0M108.8 282.9h0M135.8 285.9h0M74.0 261.3h0M123.7 271.9h0M135.6 268.9h0M162.9 278.2h0M212.8 257.2h0M106.8 280.5h0M165.2 200.6h0M96.5 208.9h0M225.8 253.4h0M120.6 262.8h0M132.6 284.9h0M143.8 282.9h0M211.7 173.3h0M134.5 279.8h0M111.0 267.0h0M119.0 284.9h0M146.3 271.7h0M74.1 268.2h0M103.3 237.7h0M116.9 210.9h0M191.0 263.7h0M86.5 288.3h0M95.8 238.1h0M195.7 269.3h0M116.7 293.1h0M97.6 174.4h0M138.7 287.9h0M71.0 185.3h0M164.9 272.7h0M122.0 264.4h0M103.6 282.1h0M103.3 277.5h0M144.2 286.3h0M156.8 270.2h0M155.3 283.2h0M103.8 300.8h0M101.2 283.4h0M122.5 286.2h0M90.4 219.8h0M225.8 269.2h0M218.9 251.1h0M100.3 274.5h0M220.3 248.2h0M82.9 282.3h0M154.9 284.4h0M115.7 283.2h0M188.9 173.0h0M200.8 264.8h0M123.5 193.2h0M135.0 179.1h0M134.8 286.9h0M147.9 276.1h0M106.8 287.7h0M216.7 261.3h0M148.2 280.0h0M78.4 266.6h0M162.4 279.4h0M236.2 259.3h0M141.6 275.2h0M123.5 277.5h0M84.5 286.0h0M119.4 283.8h0M124.3 161.4h0M159.9 231.1h0M148.7 278.4h0M87.4 292.3h0M184.2 268.6h0M124.2 257.7h0M126.6 280.3h0M230.7 269.4h0M141.3 283.7h0M111.8 283.3h0M123.6 245.1h0M152.5 240.1h0M92.3 238.4h0M192.0 276.0h0M178.7 174.9h0M103.6 214.3h0M74.8 268.0h0M72.8 273.2h0M140.5 247.1h0M114.1 288.5h0M153.2 280.5h0M134.1 240.1h0M149.2 269.5h0M173.8 274.3h0M86.0 227.5h0M165.0 272.8h0M170.9 273.0h0M86.3 240.9h0M126.6 279.6h0M151.9 273.4h0M161.2 278.6h0M240.9 256.0h0M210.1 263.0h0M113.5 283.5h0M92.2 243.4h0M102.3 211.7h0M144.4 287.7h0M126.5 210.2h0M104.4 245.3h0M122.5 285.4h0M114.9 252.2h0M108.2 238.5h0M216.7 248.5h0M153.6 270.0h0M104.7 268.1h0M102.3 249.4h0M121.5 246.9h0M170.1 260.8h0M208.6 270.3h0M228.8 270.1h0M122.3 280.3h0M92.4 225.3h0M116.8 280.8h0M243.9 263.6h0M145.5 249.5h0M178.4 274.0h0M149.5 280.5h0M169.8 267.9h0M132.2 289.4h0M112.7 290.6h0M98.2 264.3h0M172.0 264.5h0M138.8 172.4h0M211.7 248.1h0M164.9 268.5h0M126.8 282.9h0M81.8 232.7h0M106.6 162.9h0M112.0 227.0h0M170.4 269.8h0M148.1 235.1h0M120.6 279.4h0M215.1 254.7h0M160.4 236.0h0M147.6 251.1h0M160.0 265.6h0M119.1 245.2h0M89.5 277.6h0M84.8 296.3h0M106.3 284.7h0M161.3 271.6h0M103.4 288.0h0M224.0 171.1h0M76.7 207.3h0M116.7 226.3h0M166.6 275.8h0M178.9 269.5h0M164.1 267.8h0M100.9 270.9h0M129.9 268.2h0M228.6 255.3h0M123.1 286.7h0M100.5 269.1h0M137.0 281.2h0M128.1 242.7h0M126.5 279.2h0M105.2 274.8h0M183.6 286.9h0M115.9 246.9h0M87.6 220.6h0M162.1 236.3h0M114.9 284.8h0M125.8 284.7h0M152.9 280.5h0M130.2 280.4h0M166.9 271.7h0M156.4 241.1h0M107.3 291.4h0M126.2 297.4h0M129.5 268.2h0M104.7 276.9h0M103.6 263.5h0M170.9 262.9h0M157.0 243.6h0M168.9 276.1h0M115.4 274.4h0M130.7 287.6h0M166.1 270.2h0M121.2 284.5h0M178.0 279.3h0M97.7 261.1h0M117.9 291.4h0M104.4 219.1h0M104.9 274.3h0M180.9 179.4h0M245.5 249.9h0M85.3 291.5h0M104.4 292.1h0M105.5 286.0h0M201.9 259.7h0M96.3 259.5h0M144.8 243.9h0M82.5 291.9h0M92.6 249.8h0M152.2 236.3h0M108.7 287.3h0M192.4 272.7h0M152.6 240.7h0M184.3 278.5h0M135.9 277.8h0M98.2 247.6h0M114.2 276.3h0M96.0 239.4h0M123.5 288.2h0M134.2 267.0h0M84.2 267.8h0M224.8 263.4h0M156.7 265.6h0M231.5 245.0h0M88.6 295.1h0M106.5 278.2h0M105.1 239.3h0M196.9 264.0h0M166.1 267.8h0M244.7 267.8h0M94.9 209.3h0M93.9 245.7h0M244.0 265.5h0M117.0 279.3h0M94.1 253.6h0M127.8 277.4h0M202.3 263.7h0M132.6 283.2h0M132.7 284.4h0M110.2 290.4h0M145.8 279.3h0M73.4 216.4h0M112.1 195.9h0M115.3 262.2h0M142.6 279.1h0M105.1 148.7h0M106.3 289.0h0M134.4 276.3h0M141.8 274.3h0M111.6 276.6h0M166.6 269.5h0M182.6 274.7h0M81.0 291.9h0M140.0 162.9h0M124.8 280.7h0M101.3 278.2h0M179.9 274.9h0M114.4 291.0h0M127.6 220.9h0M122.6 256.2h0M84.9 291.8h0M118.2 290.6h0M80.8 264.7h0M144.8 287.5h0M139.2 276.8h0M103.4 286.7h0M101.5 201.0h0M131.7 283.5h0M143.9 271.5h0M159.5 270.8h0M184.6 268.0h0M132.6 245.9h0M98.9 282.9h0M96.2 292.4h0M104.0 303.6h0M136.0 275.1h0M184.4 272.2h0M125.7 287.5h0M113.1 206.1h0M163.3 288.7h0M96.1 215.2h0M227.5 236.6h0M135.7 275.1h0M110.2 291.7h0M159.7 253.1h0M122.0 227.5h0M104.4 238.5h0M140.4 225.9h0M111.7 248.0h0M124.7 252.5h0M83.5 279.1h0M85.5 276.4h0M92.5 249.6h0M111.2 289.2h0M87.5 290.4h0M147.9 269.8h0M174.6 271.0h0M121.0 241.1h0M144.3 276.4h0M119.6 285.7h0M129.4 279.4h0M91.0 251.3h0M143.2 277.7h0M101.7 275.5h0M159.9 271.0h0M95.6 277.2h0M163.3 242.4h0M94.6 288.9h0M97.4 169.5h0M146.9 279.0h0M112.0 278.5h0M158.6 277.1h0M119.3 208.2h0M138.7 274.5h0M92.4 210.8h0M150.3 277.4h0M93.6 293.5h0M142.1 250.3h0M216.2 260.4h0M185.0 260.2h0M174.8 278.7h0M122.5 252.6h0M96.4 292.1h0M93.9 277.8h0M156.5 279.4h0M241.4 250.6h0M113.7 239.4h0M101.4 249.0h0M121.5 294.0h0M217.3 256.5h0M243.1 219.4h0M159.5 262.1h0M120.1 283.6h0M129.6 221.5h0M137.7 267.7h0M114.6 281.2h0M182.5 267.1h0M112.9 296.9h0M88.6 288.1h0M94.0 293.6h0M206.7 262.9h0M98.9 291.0h0M96.6 284.3h0M142.3 261.2h0M93.3 277.1h0M173.4 278.4h0M226.2 252.9h0M128.7 187.9h0M134.2 286.8h0M84.6 265.4h0M245.8 258.9h0M87.6 292.4h0M94.5 271.4h0M101.1 290.8h0M101.6 267.2h0M95.2 287.5h0M137.9 279.8h0M181.0 269.0h0M122.2 264.3h0M112.4 275.7h0M170.6 266.0h0M198.2 261.1h0M216.6 266.9h0M153.7 215.3h0M91.4 293.1h0M195.8 275.1h0M138.6 280.0h0M90.7 239.1h0M129.9 231.6h0M144.5 281.0h0M98.7 285.2h0M144.4 282.2h0M143.2 276.8h0M176.0 213.8h0M102.6 271.2h0M110.4 281.4h0M117.4 265.1h0M130.3 282.2h0M132.3 285.8h0M143.1 146.2h0M131.2 286.0h0M110.8 271.0h0M116.0 283.1h0M158.5 277.0h0M141.6 184.6h0M157.1 270.1h0M163.3 280.7h0M176.9 230.1h0M157.4 274.5h0M202.1 266.4h0M139.6 276.9h0M111.3 287.4h0M89.5 240.7h0M73.0 255.8h0M161.4 274.5h0M154.6 272.4h0M180.4 261.8h0M139.5 287.3h0M196.0 262.9h0M147.9 273.0h0M150.2 282.1h0M117.3 188.8h0M79.8 166.4h0M153.3 271.8h0M81.3 207.1h0M113.3 241.9h0M117.4 209.4h0M161.3 261.5h0M107.2 287.5h0M172.5 266.9h0M98.3 290.6h0M127.6 202.4h0M105.5 275.9h0M189.5 262.9h0M150.8 266.1h0M129.8 210.3h0M131.1 243.6h0M137.9 257.5h0M89.3 244.5h0M175.0 278.4h0M168.5 277.6h0M155.6 269.3h0M119.9 287.4h0M116.9 273.5h0M117.5 269.2h0M170.1 272.8h0M155.0 270.6h0M103.6 290.1h0M120.6 288.3h0M77.9 305.1h0M116.5 200.0h0M154.5 273.7h0M113.5 217.3h0M224.1 262.8h0M120.5 284.3h0M92.9 222.1h0M164.5 279.3h0M155.8 269.1h0M95.8 220.0h0M91.1 278.4h0M98.8 165.5h0M86.7 277.0h0M87.1 289.3h0M93.6 259.2h0M100.8 291.1h0M108.0 291.3h0M81.9 280.4h0M243.6 258.7h0M238.1 253.5h0M142.5 280.9h0M118.3 282.8h0M163.0 279.6h0M84.2 284.6h0M202.3 260.0h0M85.8 221.4h0M166.8 278.1h0M118.9 275.9h0M117.3 232.6h0M178.8 266.2h0M108.7 226.7h0M130.4 249.0h0M136.2 275.6h0M123.7 202.5h0M161.2 257.0h0M101.8 287.4h0M174.5 269.6h0M119.3 226.9h0M110.4 203.3h0M135.4 234.7h0M131.5 243.5h0M74.4 258.4h0M139.5 286.2h0M138.8 285.3h0M111.0 215.2h0M87.9 292.4h0M201.5 270.5h0M117.5 265.7h0M178.6 213.9h0M105.8 291.4h0M175.7 273.3h0M127.8 211.0h0M123.1 285.5h0M162.5 277.2h0M105.7 222.8h0M73.3 224.9h0M81.5 271.7h0M142.4 277.6h0M128.5 232.3h0M83.4 285.1h0M193.7 261.0h0M194.7 271.3h0M167.4 280.8h0M155.5 224.9h0M155.5 259.3h0M90.5 289.4h0M139.1 280.7h0M112.6 284.0h0M97.7 285.6h0M170.3 261.9h0M100.2 275.1h0M129.1 284.9h0M77.1 264.5h0M118.5 290.5h0M115.5 205.2h0M185.9 276.8h0M124.8 241.0h0M82.9 167.8h0M198.7 261.7h0M116.1 274.5h0M132.1 284.6h0M152.5 270.4h0M218.3 195.2h0M204.1 263.2h0M103.4 229.2h0M111.5 243.5h0M135.1 239.0h0M131.9 275.3h0M131.1 266.4h0M77.2 247.7h0M71.7 229.3h0M189.6 260.5h0M117.4 204.4h0M147.0 225.6h0M166.2 272.6h0M134.7 279.3h0M158.5 284.8h0M136.8 176.9h0M169.8 276.7h0M153.6 260.6h0M142.6 281.4h0M142.9 282.5h0M149.7 269.1h0M113.6 284.5h0M101.1 251.7h0M144.2 202.2h0M146.0 274.9h0M143.4 204.7h0M202.5 266.1h0M99.2 286.1h0M136.2 233.6h0M126.3 291.2h0M121.1 243.7h0M105.4 245.0h0M165.4 271.8h0M167.2 284.3h0M206.8 261.2h0M118.7 282.4h0M98.8 255.7h0M84.8 250.5h0M110.9 255.1h0M136.3 291.5h0M157.7 281.8h0M209.9 245.5h0M141.5 281.0h0M189.3 262.8h0M92.1 236.8h0M120.5 263.4h0M172.1 271.6h0M131.3 288.9h0M134.5 279.2h0M241.0 262.0h0M159.2 282.7h0M113.7 274.1h0M129.9 277.2h0M152.4 286.3h0M99.0 289.7h0M135.9 200.1h0M116.1 245.7h0M99.4 290.0h0M103.1 277.2h0M96.2 254.2h0M176.1 270.1h0M169.1 266.8h0M136.1 289.2h0M157.2 281.2h0M138.7 261.2h0M95.7 189.7h0M108.5 172.0h0M147.7 232.9h0M121.2 237.8h0M221.7 187.1h0M158.5 277.3h0M94.2 283.7h0M105.0 233.2h0M143.6 284.7h0M183.4 275.3h0M97.6 264.8h0M139.6 175.4h0M94.3 242.9h0M136.3 274.5h0M110.5 242.9h0M104.2 287.9h0M76.1 231.2h0M125.8 270.1h0M109.2 236.6h0M240.3 262.3h0M131.1 191.7h0M70.6 281.8h0M86.8 295.7h0M80.0 190.9h0M118.6 256.7h0M122.2 229.7h0M146.7 260.9h0M73.6 276.8h0M189.2 263.2h0M232.8 260.5h0M143.9 238.6h0M93.3 246.8h0M105.1 260.3h0M77.1 241.3h0M162.9 279.9h0M159.8 278.1h0M183.8 264.2h0M99.2 282.1h0M123.4 281.7h0M116.6 216.7h0M235.7 259.1h0M92.8 250.1h0M157.8 209.7h0M219.4 261.4h0M130.8 183.8h0M153.0 283.3h0M218.0 250.0h0M83.7 291.2h0M235.7 257.2h0M121.0 275.5h0M210.9 258.2h0M118.4 281.8h0M82.6 258.3h0M124.8 282.9h0M149.2 267.2h0M91.3 281.7h0M134.4 284.4h0M164.0 207.9h0M129.4 282.1h0M150.7 197.4h0M83.5 294.8h0M214.5 261.5h0M136.8 281.3h0M174.6 266.1h0M140.5 267.5h0M135.0 201.3h0M94.9 232.0h0M104.3 286.6h0M120.6 285.9h0M119.9 288.9h0M149.5 279.2h0M132.6 286.3h0M173.0 262.3h0M133.8 180.8h0M193.9 277.2h0M122.2 182.3h0M87.3 300.9h0M111.6 272.4h0M157.0 270.1h0M97.9 295.0h0M158.0 276.8h0M146.9 277.4h0M118.0 177.4h0M96.2 290.3h0M189.2 263.3h0M178.2 269.9h0M100.2 274.7h0M159.3 289.4h0M130.6 248.3h0M170.2 260.4h0M168.6 265.6h0M94.1 252.6h0M226.3 255.1h0M161.9 272.0h0M246.5 259.0h0M144.3 253.5h0M116.4 285.3h0M128.3 270.3h0M194.1 276.6h0M157.6 273.6h0M161.0 236.1h0M145.0 260.4h0M89.8 266.0h0M184.4 274.4h0M116.8 281.6h0M74.4 222.3h0M139.5 227.6h0M198.9 259.0h0M88.5 208.5h0M111.8 274.8h0M105.1 276.7h0M118.5 235.3h0M125.9 222.4h0M174.5 259.3h0M92.6 294.9h0M158.8 282.7h0M180.4 265.0h0M144.2 276.1h0M101.2 290.7h0M86.6 283.2h0M138.4 271.0h0M141.9 278.1h0M114.6 288.0h0M104.5 254.6h0M200.3 212.4h0M108.7 287.0h0M152.3 270.0h0M90.5 246.0h0M110.1 241.8h0M106.9 260.3h0M135.6 231.4h0M121.9 285.2h0M107.7 216.5h0M151.7 281.8h0M206.6 273.8h0M138.5 162.0h0M84.9 257.6h0M79.6 228.0h0M145.9 218.2h0M106.8 290.6h0M91.6 288.4h0M226.8 265.1h0M161.1 261.9h0M134.2 215.4h0M208.2 238.7h0M94.0 281.1h0M146.9 269.6h0M129.7 285.6h0M115.8 222.4h0M153.2 265.2h0M88.2 215.2h0M85.4 222.1h0M117.4 289.2h0M235.9 264.3h0M160.6 158.0h0M187.3 292.6h0M106.2 218.5h0M99.4 263.9h0M90.4 250.0h0M131.8 291.4h0M214.1 257.4h0M134.0 251.9h0M156.9 268.1h0M162.3 270.0h0M123.4 270.5h0M88.5 203.3h0M120.6 233.2h0M109.0 286.9h0M94.9 244.4h0M84.3 287.9h0M94.4 226.7h0M114.1 210.9h0M160.6 237.7h0M159.2 279.4h0M104.8 236.7h0M156.4 272.1h0M169.1 270.0h0M150.0 192.2h0M127.8 293.1h0M149.5 276.7h0M123.3 267.1h0M152.0 270.4h0M167.8 275.0h0M114.6 223.8h0M105.3 291.8h0M75.1 239.4h0M103.7 286.7h0M106.0 272.4h0M168.6 282.9h0M85.3 295.5h0M106.3 278.6h0M142.7 166.2h0M77.1 286.5h0M190.8 261.4h0M88.5 274.6h0M153.7 276.4h0M196.5 272.1h0M131.0 274.2h0M217.8 239.4h0M126.1 239.7h0M78.9 260.4h0M151.4 278.6h0M108.4 294.0h0M136.4 276.6h0M204.8 258.6h0M144.6 240.9h0M177.1 253.0h0M144.2 158.6h0M115.2 288.5h0M141.6 268.7h0M115.2 296.6h0M218.3 263.8h0M134.9 229.1h0M129.2 257.6h0M108.4 262.4h0M134.7 278.0h0M105.9 233.5h0M222.7 251.1h0M113.0 217.8h0M160.6 234.6h0M84.9 275.7h0M148.7 169.9h0M85.2 288.4h0M124.9 231.0h0M152.1 269.7h0M151.7 244.4h0M85.4 269.9h0M146.3 219.6h0M105.5 291.8h0M118.7 276.7h0M107.6 292.6h0M111.2 269.9h0M110.1 224.9h0M218.1 265.2h0M204.4 292.1h0M80.8 239.6h0M196.4 250.9h0M154.1 224.5h0M152.9 270.7h0M187.7 272.2h0M128.2 281.3h0M86.6 292.2h0M224.7 268.9h0M123.4 234.0h0M124.8 271.0h0M90.8 242.1h0M161.0 244.1h0M206.7 266.2h0M113.0 209.2h0M88.4 250.2h0M242.4 256.9h0M105.3 270.6h0M150.6 226.9h0M153.9 271.6h0M222.1 256.0h0M121.7 269.3h0M120.6 273.9h0M233.5 252.1h0M106.5 283.7h0M143.1 256.4h0M134.7 286.1h0M136.4 284.1h0M127.5 209.8h0M115.1 202.1h0M107.4 231.8h0M114.0 228.7h0M92.3 253.3h0M134.7 265.3h0M99.8 289.7h0M86.0 254.4h0M170.4 270.8h0M173.6 272.4h0M117.0 266.1h0M133.0 293.7h0M124.2 157.0h0M140.2 267.1h0M74.9 238.6h0M110.3 239.5h0M135.7 270.7h0M114.9 276.1h0M133.3 270.4h0M180.6 265.7h0M112.9 290.7h0M163.9 271.4h0M143.6 278.7h0M118.6 274.8h0M74.5 259.6h0M144.4 215.0h0M136.5 286.0h0M142.8 241.6h0M144.4 288.8h0M180.3 263.2h0M131.4 180.3h0M111.0 266.4h0M138.4 241.8h0M87.2 198.2h0M94.0 259.1h0M100.2 263.8h0M168.3 212.7h0M122.4 289.5h0M112.1 275.7h0M147.4 252.7h0M83.7 275.6h0M157.8 246.9h0M204.5 259.3h0M112.0 234.2h0M191.7 267.3h0M114.0 277.9h0M147.4 273.1h0M195.0 265.7h0M218.5 259.3h0M95.4 199.2h0M140.1 281.4h0M123.8 272.9h0M192.3 273.8h0M144.2 276.2h0M112.1 228.0h0M121.4 281.9h0M104.8 268.4h0M123.8 291.9h0M130.1 275.9h0M136.1 260.7h0M147.2 279.0h0M136.0 178.6h0M136.0 275.2h0M122.8 251.9h0M143.5 223.9h0M105.7 249.1h0M92.4 277.0h0M86.7 222.5h0M153.2 275.4h0M81.6 277.2h0M140.1 227.1h0M114.7 264.8h0M126.2 280.6h0M99.3 247.2h0M115.6 247.0h0M159.4 211.1h0M82.7 262.2h0M118.5 270.6h0M107.8 225.2h0M96.6 255.0h0M162.9 175.2h0M165.4 277.7h0M77.7 239.6h0M207.7 256.7h0M93.7 285.1h0M144.6 224.4h0M147.0 277.3h0M150.5 269.4h0M171.3 274.9h0M143.1 269.7h0M96.5 288.9h0M99.9 275.3h0M110.0 256.7h0M164.1 155.9h0M104.9 253.3h0M122.1 283.8h0M134.9 286.1h0M241.5 243.1h0M104.1 200.2h0M141.9 258.1h0M90.2 255.8h0M189.0 257.2h0M161.0 251.2h0M179.8 267.0h0M121.6 281.7h0M107.7 268.7h0M81.9 277.6h0M128.6 221.2h0M217.1 254.6h0M74.0 274.3h0M87.4 234.7h0M153.2 211.0h0M105.8 283.9h0M220.7 259.4h0M112.3 288.9h0M108.7 218.3h0M199.5 259.5h0M119.7 260.2h0M122.1 284.2h0M130.6 282.5h0M210.5 271.5h0M126.9 283.3h0M164.3 259.0h0M100.0 255.0h0M153.8 276.1h0M132.5 276.7h0M214.8 249.4h0M161.2 256.5h0M194.5 263.8h0M157.0 278.4h0M159.4 257.9h0M120.0 281.5h0M175.4 266.6h0M114.4 202.1h0M160.7 281.3h0M198.3 258.0h0M122.4 259.1h0M119.8 274.2h0M124.0 257.8h0M177.4 269.0h0M145.3 251.2h0M143.1 150.8h0M109.4 287.9h0M167.5 269.3h0M85.3 254.2h0M221.8 253.0h0M183.7 253.6h0M119.3 201.1h0M118.0 291.6h0M97.2 161.6h0M218.4 270.0h0M107.2 232.7h0M143.8 274.9h0M89.3 298.6h0M150.9 286.2h0M132.6 285.9h0M135.2 240.2h0M153.4 265.9h0M151.2 268.0h0M158.4 227.4h0M135.7 290.1h0M86.8 281.5h0M242.9 260.6h0M110.5 274.4h0M76.5 143.1h0M105.0 288.7h0M96.1 247.3h0M140.6 179.2h0M127.4 179.4h0M185.6 272.6h0M97.7 234.9h0M183.8 269.9h0M145.9 277.2h0M188.2 257.2h0M142.5 287.5h0M195.7 269.9h0M109.9 262.2h0M111.6 288.2h0M175.0 263.9h0M142.6 220.2h0M151.3 256.0h0M133.7 235.9h0M241.0 245.7h0M121.7 194.6h0M123.3 284.5h0M213.1 265.7h0M89.0 242.4h0M113.0 288.0h0M101.1 268.9h0M123.2 226.6h0M201.2 240.4h0M96.2 211.1h0M89.4 233.1h0M117.4 230.3h0M90.9 205.8h0M164.3 269.9h0M119.3 231.0h0M133.8 198.6h0M128.6 283.8h0M142.9 252.0h0M102.0 223.7h0M115.5 267.3h0M137.0 277.6h0M169.8 268.3h0M171.5 277.0h0M233.8 252.7h0M107.9 243.5h0M109.6 298.4h0M207.3 250.3h0M98.4 295.1h0M135.7 276.8h0M153.4 278.9h0M159.2 272.4h0M112.8 259.4h0M162.6 243.0h0M116.0 274.2h0M163.3 267.4h0M110.5 273.8h0M115.3 262.1h0M200.4 262.3h0M239.9 266.9h0M143.8 248.3h0M134.5 282.7h0M163.5 216.2h0M132.2 277.7h0M178.8 278.2h0M235.9 256.2h0M154.7 274.4h0M118.2 270.3h0M163.4 284.3h0M141.8 249.1h0M114.3 243.0h0M134.1 270.3h0M138.7 231.4h0M120.1 268.1h0M176.6 264.1h0M214.4 260.8h0M132.0 201.1h0M195.6 262.8h0M157.0 273.8h0M124.2 233.2h0M208.6 261.2h0M183.5 257.0h0M201.7 264.6h0M144.8 277.2h0M169.5 272.6h0M156.0 274.8h0M117.3 285.3h0M193.6 260.3h0M115.2 193.1h0M127.9 271.7h0M178.5 276.5h0M131.0 265.9h0M218.3 254.3h0M145.0 150.9h0M139.3 287.3h0M155.8 252.1h0M106.5 287.6h0M179.7 271.6h0M174.3 192.5h0M158.2 270.9h0M111.3 279.0h0M212.5 257.4h0M158.1 278.7h0M130.8 280.3h0M156.8 257.1h0M120.4 260.4h0M141.5 253.4h0M170.5 231.8h0M206.4 265.9h0M191.9 255.2h0M169.4 261.7h0M111.8 278.7h0M128.4 282.9h0M148.0 284.1h0M195.9 195.7h0M178.3 267.0h0M111.0 286.9h0M144.6 154.7h0M115.1 283.8h0M124.5 272.5h0M162.3 245.5h0M128.8 278.2h0M149.7 265.6h0M120.5 261.6h0M172.7 265.6h0M142.3 274.1h0M141.4 261.8h0M196.4 268.9h0M130.6 275.7h0M167.6 273.9h0M152.5 220.3h0M132.6 186.5h0M199.3 265.5h0M154.6 235.5h0M174.2 270.4h0M136.6 245.8h0M210.8 261.1h0M169.6 270.5h0M178.7 263.3h0M126.7 285.0h0M238.6 250.7h0M160.6 211.9h0M156.5 245.7h0M177.3 264.7h0M195.9 252.6h0M103.8 280.2h0M134.6 251.6h0M138.3 241.1h0M98.4 296.5h0M168.6 192.9h0M172.8 275.5h0M154.7 268.0h0M126.4 223.1h0M209.8 271.8h0M129.0 284.7h0M102.3 288.7h0M95.1 291.5h0M169.3 264.3h0M212.9 262.1h0M183.4 286.8h0M85.8 292.5h0M215.4 252.1h0M119.4 276.8h0M219.1 274.6h0M121.9 255.9h0M229.1 253.2h0M185.1 271.6h0M103.6 288.4h0M205.8 248.7h0M84.2 287.4h0M118.6 261.9h0M244.1 256.0h0M128.8 287.8h0M149.7 239.4h0M125.3 261.7h0M116.1 261.1h0M184.1 275.5h0M113.8 283.0h0M153.5 198.4h0M81.3 275.6h0M131.8 266.3h0M154.5 269.6h0M128.9 220.4h0M220.3 256.6h0M199.3 255.3h0M123.0 280.1h0M126.7 220.5h0M150.1 286.5h0M112.9 251.0h0M177.8 263.2h0M132.9 189.4h0M192.0 273.1h0M125.7 284.0h0M122.7 198.6h0M135.5 259.1h0M182.2 267.2h0M125.7 281.4h0M210.3 260.3h0M170.5 273.0h0M152.2 272.4h0M138.5 199.0h0M137.6 264.6h0M125.9 277.3h0M123.4 210.8h0M179.8 275.6h0M137.4 245.5h0M91.0 289.0h0M118.9 276.4h0M136.3 281.0h0M103.3 275.3h0M131.8 282.0h0M110.4 282.0h0M136.2 281.6h0M126.4 262.9h0M72.5 295.0h0M210.4 264.5h0M112.2 289.1h0M197.8 259.2h0M206.2 263.3h0M131.2 280.0h0M125.3 284.3h0M129.1 276.0h0M133.1 284.7h0M139.5 245.9h0M207.6 253.7h0M158.9 255.7h0M88.8 289.4h0M179.2 276.8h0M173.4 281.1h0M143.0 281.3h0M130.3 254.2h0M140.4 257.9h0M171.8 269.4h0M111.3 267.8h0M218.4 248.8h0M182.3 272.6h0M200.0 208.4h0M187.1 272.2h0M148.0 278.3h0M194.3 254.1h0M139.6 284.9h0M98.1 294.2h0M100.8 252.3h0M145.2 275.9h0M131.3 221.2h0M194.4 256.6h0M155.0 272.1h0M175.3 226.7h0M129.3 254.7h0M124.5 244.9h0M166.8 280.1h0M150.8 285.1h0M119.3 225.6h0M114.6 288.6h0M205.4 255.0h0M161.5 244.5h0M123.2 291.4h0M167.1 196.4h0M170.5 266.4h0M106.0 290.3h0M134.5 236.4h0M109.5 295.5h0M179.0 264.8h0M136.0 204.9h0M135.3 216.9h0M116.3 271.8h0M87.5 290.7h0M170.2 272.3h0M192.8 154.1h0M214.1 261.6h0M105.6 295.0h0M171.6 227.1h0M205.1 263.2h0M232.8 259.5h0M164.4 277.1h0M241.7 245.1h0M140.7 271.1h0M170.4 273.5h0M213.1 168.1h0M115.1 287.4h0M102.5 290.5h0M170.7 276.9h0M166.1 264.4h0M236.4 260.2h0M173.3 257.8h0M236.3 245.1h0M118.4 197.8h0M166.9 271.7h0M105.5 287.4h0M179.8 273.5h0M227.1 252.1h0M124.1 279.8h0M122.9 257.4h0M113.8 232.4h0M230.2 238.8h0M166.5 268.8h0M123.7 222.7h0M197.3 265.2h0M121.4 191.4h0M114.3 268.4h0M117.4 274.6h0M101.5 294.7h0M149.5 274.2h0M157.3 277.2h0M129.6 283.5h0M155.9 271.0h0M178.3 279.0h0M135.0 246.9h0M186.1 268.1h0M151.1 273.2h0M225.6 242.8h0M160.3 273.1h0M176.7 277.4h0M148.0 240.8h0M150.7 276.8h0M87.1 293.9h0M127.5 217.0h0M85.4 291.7h0M147.6 277.8h0M175.9 254.2h0M142.7 281.3h0M155.6 281.7h0M185.8 271.3h0M178.6 270.7h0M141.0 280.3h0M119.5 287.6h0M139.4 283.9h0M107.2 233.0h0M161.6 273.7h0M228.2 266.2h0M112.4 278.9h0M246.6 265.8h0M117.7 276.7h0"/>
<path stroke="rgb(223,223,223)" stroke-opacity="0.7" stroke-width="2.39" d="M105.5 271.9h0M150.6 273.2h0M107.9 283.2h0M112.9 282.4h0M99.7 282.5h0M179.8 259.6h0M154.3 269.6h0M169.9 276.8h0M104.4 279.0h0M97.2 288.4h0M152.9 274.5h0M94.9 295.1h0M118.1 280.9h0M194.2 256.9h0M122.0 210.2h0M206.6 262.2h0M119.3 269.1h0M209.8 263.8h0M220.3 253.1h0M152.9 284.5h0M131.5 276.7h0M158.0 273.9h0M126.0 281.7h0M133.6 277.4h0M135.7 208.3h0M190.8 271.7h0M199.8 259.3h0M169.8 272.9h0M147.6 282.9h0M95.9 264.2h0M182.7 267.5h0M132.2 274.2h0M188.5 265.2h0M162.4 261.0h0M132.2 207.8h0M172.1 251.8h0M216.5 259.3h0M120.0 280.6h0M122.1 279.2h0M170.2 270.0h0M134.5 272.4h0M176.0 273.1h0M166.1 264.0h0M171.7 277.2h0M120.1 194.8h0M131.6 276.3h0M134.4 191.2h0M172.2 272.6h0M198.5 254.1h0M210.1 263.7h0M179.3 270.5h0M204.3 251.7h0M183.6 232.7h0M192.9 279.1h0M136.3 214.3h0M149.6 281.6h0M157.3 284.5h0M152.7 268.8h0M135.4 176.8h0M214.1 270.0h0M173.0 269.4h0M110.9 228.1h0M168.7 264.4h0M130.8 243.3h0M80.1 295.5h0M190.9 275.7h0M151.6 273.1h0M174.1 269.3h0M121.9 276.6h0M111.8 222.4h0M102.5 263.3h0M131.0 221.8h0M203.6 260.0h0M105.2 273.5h0M125.2 282.1h0M224.0 267.2h0M95.1 286.1h0M174.6 264.0h0M184.4 276.9h0M148.2 258.2h0M174.6 265.9h0M129.7 260.3h0M136.9 280.0h0M122.2 216.3h0M109.3 269.9h0M208.5 261.6h0M200.7 257.7h0M120.9 233.7h0M139.6 259.5h0M158.6 269.0h0M182.7 266.5h0M126.4 246.8h0M139.2 280.5h0M166.6 263.6h0M103.9 264.9h0M216.4 180.1h0M111.8 238.5h0M154.8 278.1h0M179.0 227.7h0M120.6 278.1h0M142.2 257.6h0M127.0 284.7h0M132.9 208.6h0M122.5 223.6h0M186.2 272.1h0M208.2 264.0h0M174.3 274.3h0M193.8 260.3h0M138.3 247.8h0M122.1 234.6h0M162.9 273.7h0M179.6 210.9h0M114.8 266.3h0M123.3 283.5h0M189.5 261.9h0M151.6 267.4h0M184.8 258.3h0M200.0 273.1h0M98.5 292.2h0M161.2 276.1h0M140.4 281.7h0M158.8 228.0h0M178.2 265.2h0M160.8 266.7h0M174.5 272.0h0M121.1 232.4h0M232.5 254.5h0M134.7 238.7h0M145.5 272.7h0M217.6 267.8h0M101.4 252.8h0M159.9 261.5h0M118.8 220.1h0M149.8 271.8h0M139.8 272.5h0M167.8 262.6h0M97.9 268.6h0M157.6 265.2h0M136.4 201.3h0M169.9 232.3h0M202.5 283.3h0M114.7 274.6h0M127.3 283.2h0M187.3 270.7h0M125.2 240.2h0M158.7 267.1h0M98.7 283.0h0M166.6 271.2h0M100.2 223.8h0M178.9 256.0h0M137.2 254.4h0M138.1 216.4h0M105.6 294.3h0M142.8 236.0h0M118.4 204.6h0M125.4 218.2h0M177.6 272.2h0M181.6 265.7h0M184.7 265.4h0M161.9 227.7h0M175.9 271.1h0M134.1 205.1h0M99.6 277.9h0M159.6 277.1h0M133.3 267.9h0M94.1 278.1h0M113.2 269.6h0M181.0 269.2h0M186.6 268.9h0M112.9 272.2h0M114.9 273.2h0M157.6 279.6h0M141.7 279.8h0M147.2 271.7h0M190.1 276.1h0M92.1 292.2h0M136.6 274.5h0M123.0 224.5h0M151.7 246.8h0M122.4 205.5h0M191.2 262.2h0M188.2 259.5h0M111.7 275.2h0M108.5 252.0h0M130.5 236.1h0M144.5 274.3h0M211.2 252.0h0M113.3 221.9h0M120.3 280.1h0M132.4 245.0h0M162.1 281.2h0M198.9 266.1h0M114.5 146.0h0M152.2 280.1h0M201.0 262.5h0M201.7 254.7h0M138.5 185.9h0M150.4 272.8h0M154.4 273.1h0M161.9 279.0h0M133.0 208.7h0M108.4 272.6h0M127.2 277.4h0M197.9 268.5h0M144.6 222.1h0M180.6 270.9h0M110.9 286.8h0M172.7 261.5h0M130.1 271.6h0M193.2 263.6h0M131.3 287.8h0M99.0 288.8h0M211.3 254.7h0M136.0 249.3h0M123.6 264.7h0M160.0 278.4h0M154.2 169.5h0M182.3 270.0h0M174.0 208.8h0M138.6 284.8h0M91.5 295.0h0M134.9 279.6h0M141.1 252.4h0M105.5 239.6h0M179.7 270.9h0M91.9 292.7h0M125.1 244.1h0M110.2 265.6h0M239.7 253.3h0M165.2 194.1h0M95.2 259.7h0M189.0 261.5h0M92.4 254.7h0M187.1 265.2h0M139.7 205.2h0M168.7 268.8h0M91.4 263.4h0M148.2 256.2h0M124.1 265.9h0M162.7 273.3h0M154.7 281.6h0M154.6 277.7h0M137.5 280.2h0M173.0 273.1h0M142.6 244.0h0M119.9 236.5h0M133.3 290.6h0M190.0 266.4h0M122.1 248.1h0M112.6 289.6h0M147.1 279.3h0M180.7 285.2h0M196.7 250.6h0M78.5 267.1h0M195.2 257.6h0M167.4 270.6h0M160.7 274.3h0M119.7 224.0h0M241.4 246.1h0M144.4 278.1h0M122.4 281.4h0M117.1 292.7h0M123.3 282.2h0M108.0 284.4h0M210.9 264.5h0M178.5 256.9h0M115.7 230.8h0M127.5 285.1h0M137.3 278.9h0M100.9 259.0h0M180.9 268.6h0M120.8 283.8h0M196.3 268.9h0M134.6 269.6h0M180.3 253.7h0M226.2 261.6h0M119.8 269.3h0M88.0 284.7h0M167.5 274.7h0M129.6 252.4h0M107.9 288.5h0M139.6 194.9h0M153.5 263.7h0M179.7 273.0h0M115.6 286.8h0M136.8 212.0h0M152.4 272.7h0M171.1 272.2h0M119.6 258.0h0M208.1 258.6h0M128.0 271.4h0M227.3 262.4h0M157.4 281.7h0M142.0 281.9h0M164.7 271.7h0M126.2 226.0h0M198.4 262.8h0M204.4 233.9h0M143.1 257.9h0M127.1 273.7h0M186.5 256.4h0M83.3 259.7h0M150.5 278.9h0M129.9 285.8h0M215.2 262.2h0M167.5 272.7h0M221.5 251.7h0M188.5 166.7h0M120.1 208.3h0M147.8 267.4h0M165.4 277.7h0M156.8 278.2h0M157.8 245.8h0M200.3 250.6h0M163.5 230.1h0M177.1 276.7h0M114.5 267.8h0M150.1 269.9h0M210.9 264.8h0M122.5 265.7h0M114.7 271.0h0M139.2 212.9h0M154.5 266.1h0M145.0 285.5h0M188.9 250.1h0M87.8 285.4h0M130.5 213.1h0M200.5 264.5h0M169.8 278.7h0M112.5 227.4h0M145.6 254.1h0M138.9 250.4h0M196.8 154.8h0M106.9 288.9h0M223.2 160.8h0M177.4 279.6h0M176.3 269.4h0M84.4 292.4h0M179.7 270.9h0M186.9 272.5h0M208.0 163.6h0M105.5 288.6h0M200.2 178.2h0M222.2 254.5h0M117.6 235.3h0M170.8 270.0h0M167.4 261.0h0M89.1 296.4h0M187.1 263.7h0M132.3 237.4h0M162.5 244.4h0M127.5 270.4h0M176.4 277.2h0M132.6 178.9h0M201.0 179.5h0M131.6 219.3h0M127.4 282.1h0M137.4 272.6h0M215.1 245.7h0M122.9 286.6h0M102.9 285.8h0M168.1 281.4h0M105.7 270.9h0M208.1 168.6h0M190.7 263.6h0M139.5 187.5h0M173.2 271.4h0M182.7 175.6h0M87.2 291.4h0M173.3 276.2h0M131.4 220.8h0M159.2 187.8h0M127.1 255.5h0M204.4 258.2h0M133.0 220.8h0M143.3 280.7h0M179.2 284.0h0M119.1 271.9h0M195.1 269.4h0M173.2 278.5h0M173.8 266.7h0M155.1 283.8h0M158.6 242.6h0M141.2 266.0h0M168.8 275.7h0M127.6 283.9h0M187.3 264.4h0M136.1 252.6h0M109.2 271.9h0M118.7 283.4h0M192.0 258.8h0M122.2 274.2h0M140.8 282.7h0M163.8 277.7h0M120.3 283.4h0M185.1 272.5h0M131.2 242.6h0M162.9 273.7h0M117.5 210.0h0M214.9 258.0h0M159.5 276.9h0M195.1 254.7h0M245.9 247.4h0M176.4 267.6h0M148.6 276.2h0M95.4 296.7h0M95.2 252.6h0M91.0 284.3h0M111.8 298.2h0M156.8 278.9h0M208.1 265.0h0M184.2 177.6h0M144.9 273.0h0M197.3 268.3h0M152.9 198.7h0M209.6 250.5h0M164.3 274.7h0M183.0 272.2h0M186.7 277.7h0M153.7 242.1h0M204.8 266.9h0M184.3 263.6h0M119.4 236.9h0M193.8 237.1h0M182.0 234.9h0M109.5 270.3h0M140.3 238.2h0M163.3 225.6h0M140.6 202.6h0M144.9 276.3h0M209.0 249.4h0M167.9 270.6h0M129.3 282.3h0M124.6 242.5h0M203.2 258.6h0M172.4 261.6h0M216.0 271.0h0M104.1 226.6h0M141.3 214.6h0M114.1 267.2h0M162.7 278.5h0M190.4 257.5h0M195.6 277.4h0M143.8 256.2h0M173.0 278.5h0M162.3 276.0h0M95.5 290.8h0M152.8 272.4h0M187.7 260.3h0M146.4 158.5h0M213.6 163.3h0M212.4 176.8h0M133.9 268.7h0M112.5 219.3h0M171.7 270.7h0M165.4 268.3h0M144.5 204.7h0M127.0 209.0h0M99.1 253.0h0M204.4 266.0h0M200.0 267.8h0M197.4 261.7h0M165.2 273.4h0M139.3 272.4h0M148.3 273.8h0M129.0 208.5h0M125.4 277.8h0M191.8 210.1h0M221.2 262.7h0M93.6 285.7h0M146.6 161.1h0M136.8 265.8h0M87.9 265.6h0M176.5 276.2h0M183.9 179.5h0M102.5 278.2h0M178.1 267.2h0M122.0 284.4h0M223.9 252.8h0M190.2 238.9h0M97.7 278.7h0M206.3 256.4h0M143.9 214.5h0M135.1 278.6h0M188.2 263.5h0M194.7 272.9h0M201.7 265.1h0M145.4 243.3h0M195.9 271.5h0M125.2 189.0h0M156.3 277.1h0M152.9 222.6h0M103.9 282.3h0M224.6 244.3h0M88.1 288.8h0M209.8 257.3h0M214.8 226.0h0M150.6 209.9h0M141.2 254.9h0M177.6 272.7h0M139.5 254.9h0M87.2 288.4h0M130.2 183.3h0M115.3 288.4h0M186.7 256.4h0M180.8 279.3h0M126.4 251.5h0M191.9 282.3h0M144.1 249.7h0M185.4 232.3h0M104.2 270.2h0M153.3 267.1h0M184.2 261.4h0M148.5 255.2h0M157.1 274.1h0M206.2 270.9h0M218.3 269.2h0M206.9 166.6h0M214.4 258.7h0M110.8 284.4h0M127.6 225.7h0M176.7 269.9h0M106.2 231.1h0M85.5 282.9h0M204.3 236.3h0M160.2 237.2h0M155.1 181.7h0M131.2 282.7h0M184.7 277.9h0M131.0 291.1h0M155.8 276.9h0M108.6 287.8h0M196.7 263.0h0M186.4 269.0h0M100.5 254.6h0M217.2 256.9h0M182.6 271.4h0M127.8 197.9h0M97.9 255.4h0M220.4 153.4h0M124.8 248.1h0M167.8 287.6h0M147.2 275.7h0M104.9 275.7h0M210.5 270.7h0M127.2 193.7h0M104.8 287.9h0M185.1 268.2h0M95.4 274.0h0M126.7 285.8h0M187.2 269.0h0M171.3 266.5h0M125.0 264.5h0M104.4 272.6h0M123.5 267.8h0M125.3 286.2h0M194.2 272.1h0M177.4 277.0h0M99.4 245.2h0M127.2 278.0h0M121.0 270.9h0M181.4 266.8h0M121.6 263.1h0M167.6 270.9h0M91.0 261.2h0M207.9 258.4h0M130.6 277.6h0M182.2 274.5h0M221.7 264.6h0M99.8 277.8h0M84.2 288.4h0M131.1 178.7h0M112.1 250.1h0M115.7 283.2h0M132.8 259.4h0M176.2 274.0h0M150.2 286.0h0M147.8 254.6h0M195.7 254.4h0M173.0 271.3h0M114.6 270.6h0M199.6 238.8h0M184.2 257.5h0M188.9 247.7h0M165.7 280.4h0M105.9 269.6h0M193.9 275.6h0M177.6 268.9h0M122.1 196.5h0M128.2 190.0h0M142.7 278.3h0M183.0 232.7h0M173.1 235.7h0M78.8 269.8h0M178.4 279.9h0M158.6 285.6h0M123.3 283.1h0M216.4 256.0h0M191.6 264.0h0M226.0 251.3h0M139.6 242.4h0M134.9 276.1h0M194.4 277.9h0M205.2 249.5h0M99.1 243.4h0M209.2 253.5h0M198.3 265.7h0M132.9 249.1h0M174.7 266.6h0M181.2 268.7h0M132.2 256.7h0M128.7 213.5h0M171.3 266.1h0M184.9 260.7h0M131.4 238.6h0M214.0 265.2h0M203.9 261.7h0M185.1 268.7h0M123.9 245.1h0M200.2 271.0h0M158.1 256.9h0M147.4 274.2h0M221.9 239.6h0M170.0 254.1h0M119.8 229.1h0M116.7 224.0h0M223.5 198.0h0M196.2 248.1h0M99.6 292.6h0M112.0 291.1h0M142.7 218.5h0M189.6 223.1h0M219.7 171.1h0M160.3 264.9h0M209.0 265.0h0M191.6 264.1h0M159.7 272.4h0M151.7 254.2h0M162.6 250.2h0M133.9 276.5h0M162.8 272.5h0M114.5 286.9h0M176.4 264.4h0M105.7 234.9h0M199.0 258.3h0M132.9 234.6h0M207.1 272.0h0M121.1 284.5h0M194.8 262.4h0M121.5 212.2h0M133.1 231.3h0M151.1 189.7h0M191.3 263.4h0M84.2 286.1h0M154.9 256.0h0M174.8 276.9h0M118.2 268.1h0M128.3 285.3h0M182.2 196.9h0M191.0 236.9h0M180.3 271.4h0M222.4 184.0h0M169.6 265.4h0M139.9 274.9h0M123.3 292.2h0M118.2 224.9h0M118.5 292.1h0M163.0 275.8h0M121.0 214.1h0M177.9 251.7h0M183.9 276.7h0M207.4 264.1h0M186.8 189.2h0M88.7 286.8h0M183.7 166.5h0M154.4 210.8h0M107.3 295.5h0M181.5 207.1h0M127.2 272.3h0M130.4 292.6h0M157.9 277.8h0M175.4 271.0h0M133.5 275.8h0M102.5 290.7h0M122.3 260.6h0M207.3 260.5h0M94.6 289.3h0M202.8 261.0h0M196.9 261.7h0M244.8 256.3h0M159.9 237.7h0M111.2 255.4h0M202.9 257.0h0M162.7 158.2h0M104.9 294.4h0M122.3 279.7h0M124.8 251.9h0M147.4 238.1h0M182.9 261.4h0M150.0 280.3h0M136.8 275.8h0M86.4 292.4h0M147.9 234.5h0M149.8 280.9h0M184.1 262.2h0M196.7 262.7h0M203.1 273.5h0M211.3 261.2h0M142.6 228.2h0M133.3 285.1h0M84.2 294.8h0M163.3 225.8h0M125.9 273.2h0M142.6 257.2h0M92.1 284.5h0M92.9 290.2h0M117.9 260.7h0M91.6 287.5h0M169.5 275.6h0M120.4 203.7h0M86.5 297.6h0M177.4 271.0h0M165.0 263.0h0M142.8 252.6h0M116.8 266.3h0M95.6 262.1h0M137.6 275.2h0M116.9 245.0h0M184.9 277.2h0M198.6 271.9h0M138.7 271.7h0M211.6 235.1h0M139.0 168.5h0M196.8 260.6h0M129.1 283.5h0M191.8 262.4h0M124.7 288.9h0M162.4 277.4h0M206.8 253.9h0M101.7 241.0h0M146.6 270.9h0M96.7 296.5h0M117.5 262.1h0M111.3 265.7h0M112.3 218.2h0M197.3 266.0h0M113.6 282.0h0M157.5 244.5h0M101.5 238.4h0M134.1 203.3h0M217.2 263.8h0M176.2 259.8h0M149.4 235.1h0M211.5 260.4h0M195.7 267.6h0M187.6 264.7h0M141.4 251.2h0M126.2 284.2h0M164.7 237.1h0M199.4 266.8h0M181.0 269.9h0M141.8 173.7h0M174.3 202.1h0M164.8 279.5h0M134.3 275.6h0M119.1 287.6h0M176.6 263.4h0M166.9 276.7h0M166.5 255.6h0M139.1 270.0h0M160.1 277.2h0M195.0 263.5h0M99.0 282.6h0M201.7 273.4h0M132.0 247.7h0M197.6 171.0h0M129.9 273.2h0M179.5 184.7h0"/>
<path stroke="rgb(210,210,210)" stroke-opacity="0.7" stroke-width="2.47" d="M226.9 198.4h0M263.1 266.8h0M128.9 284.0h0M106.6 244.8h0M187.4 263.9h0M165.1 280.7h0M200.2 262.8h0M141.0 275.1h0M124.5 191.4h0M186.9 266.5h0M111.3 261.4h0M145.9 279.8h0M111.5 246.6h0M200.1 260.9h0M78.7 294.8h0M88.9 283.8h0M133.8 233.7h0M151.3 266.5h0M137.1 276.4h0M89.2 254.6h0M96.0 253.9h0M122.3 280.4h0M205.4 272.2h0M103.9 242.2h0M185.9 261.2h0M162.8 201.3h0M175.2 223.4h0M147.5 233.4h0M193.6 268.0h0M142.2 211.3h0M182.4 261.8h0M176.1 269.6h0M134.8 261.7h0M111.2 218.3h0M134.2 282.8h0M196.7 266.5h0M173.4 157.4h0M217.5 192.4h0M151.1 253.4h0M216.8 262.9h0M214.0 267.7h0M194.1 256.7h0M162.3 248.9h0M193.3 262.2h0M112.1 218.3h0M224.2 278.9h0M161.2 250.1h0M175.1 262.1h0M87.7 293.9h0M107.5 277.3h0M137.2 284.5h0M155.6 160.1h0M162.6 275.0h0M110.1 228.7h0M211.9 188.6h0M153.1 236.1h0M119.8 256.7h0M113.4 211.8h0M191.9 258.5h0M187.6 280.0h0M84.8 294.1h0M133.6 283.2h0M115.1 283.0h0M114.6 271.7h0M141.6 260.6h0M96.7 278.9h0M87.9 277.4h0M189.6 191.9h0M188.3 268.3h0M128.5 283.7h0M111.0 268.2h0M136.4 239.7h0M98.4 282.1h0M151.5 174.8h0M181.5 241.7h0M196.1 259.5h0M149.8 204.5h0M239.2 262.2h0M133.9 271.8h0M200.3 273.2h0M166.1 225.3h0M108.9 277.8h0M160.5 279.8h0M157.6 267.9h0M165.2 193.0h0M201.5 267.8h0M145.0 278.7h0M126.0 280.7h0M120.1 218.2h0M202.2 172.1h0M239.3 244.7h0M201.6 259.3h0M137.9 252.9h0M128.3 270.7h0M104.7 237.5h0M120.1 215.9h0M178.4 272.7h0M142.9 210.3h0M111.7 281.1h0M182.6 179.8h0M131.6 228.7h0M98.6 240.8h0M149.3 279.6h0M121.6 283.3h0M115.2 236.4h0M95.7 268.4h0M127.6 257.5h0M99.0 276.5h0M127.9 251.5h0M217.9 259.9h0M198.8 266.0h0M113.2 281.8h0M197.7 272.1h0M231.2 277.3h0M136.8 187.3h0M123.2 201.8h0M202.0 265.6h0M100.2 272.0h0M135.5 272.6h0M136.8 215.3h0M153.4 213.5h0M76.6 298.5h0M156.3 202.3h0M88.5 273.1h0M190.3 258.4h0M158.6 232.8h0M146.0 205.8h0M129.5 224.4h0M145.9 173.1h0M88.7 294.5h0M193.8 228.2h0M139.2 208.5h0M161.8 267.2h0M168.1 275.2h0M96.0 247.2h0M179.5 266.8h0M87.8 290.8h0M149.4 256.7h0M198.2 271.6h0M165.0 247.2h0M126.0 259.7h0M125.5 213.1h0M161.7 236.1h0M194.1 258.3h0M82.4 285.3h0M110.0 274.2h0M159.2 271.2h0M173.1 281.9h0M198.7 263.3h0M146.7 155.0h0M189.0 273.7h0M205.5 173.8h0M128.8 234.7h0M98.8 254.5h0M169.4 250.0h0M82.4 262.8h0M141.7 232.0h0M83.6 290.7h0M136.1 244.1h0M109.3 287.4h0M217.5 235.9h0M181.6 269.8h0M185.1 260.0h0M142.6 161.6h0M107.2 283.2h0M108.8 246.0h0M133.3 277.9h0M116.7 269.9h0M199.1 267.2h0M159.4 253.0h0M188.6 212.9h0M99.8 246.3h0M154.2 180.9h0M115.1 219.0h0M214.0 255.0h0M112.3 268.0h0M85.8 282.1h0M169.0 190.2h0M136.8 210.3h0M108.5 279.7h0M154.2 276.5h0M151.3 200.8h0M123.3 264.9h0M135.9 172.0h0M193.3 273.3h0M140.5 233.4h0M199.0 272.4h0M184.6 265.8h0M115.3 226.8h0M105.7 252.4h0M100.5 285.0h0M139.1 202.9h0M120.2 216.1h0M194.0 258.0h0M148.1 237.9h0M188.8 265.5h0M126.7 238.4h0M186.2 265.0h0M177.8 279.4h0M205.8 266.8h0M118.1 286.5h0M231.3 257.3h0M206.7 257.6h0M157.2 165.1h0M170.5 274.5h0M163.1 270.5h0M156.3 278.2h0M136.7 280.9h0M152.0 227.9h0M102.4 255.7h0M188.5 247.0h0M118.2 226.8h0M139.7 166.4h0M176.3 270.6h0M134.3 231.7h0M123.6 256.8h0M169.1 279.0h0M112.6 226.6h0M193.0 252.1h0M222.2 246.5h0M131.1 225.3h0M144.1 149.3h0M94.0 252.1h0M147.9 274.5h0M189.8 258.1h0M151.4 274.8h0M186.7 261.7h0M146.4 157.3h0M160.1 283.0h0M209.6 261.8h0M186.0 171.2h0M206.9 219.6h0M136.2 280.2h0M185.7 269.4h0M199.2 264.0h0M160.5 249.9h0M149.6 287.8h0M133.0 294.2h0M186.1 270.3h0M201.8 263.5h0M152.0 237.7h0M147.8 271.8h0M184.4 266.7h0M196.5 267.0h0M131.3 261.4h0M124.0 222.9h0M140.5 263.5h0M163.6 233.8h0M140.0 225.6h0M96.8 243.1h0M217.9 212.5h0M140.8 201.1h0M122.7 236.5h0M116.4 248.6h0M158.2 171.7h0M132.5 279.5h0M124.4 223.9h0M131.3 211.9h0M167.7 268.5h0M125.6 194.4h0M120.7 281.7h0M121.4 221.9h0M103.6 253.8h0M195.8 271.6h0M161.8 258.4h0M172.8 224.2h0M132.8 263.4h0M194.9 272.4h0M222.5 264.8h0M122.4 271.0h0M103.7 294.2h0M137.9 175.2h0M215.5 181.1h0M160.6 232.0h0M178.5 258.0h0M118.3 266.4h0M155.5 284.1h0M141.1 160.4h0M130.2 236.5h0M134.9 219.8h0M107.8 270.7h0M178.6 262.9h0M163.3 280.4h0M138.0 255.5h0M187.5 242.7h0M110.8 273.5h0M149.1 284.5h0M123.5 254.5h0M176.1 241.4h0M204.6 253.6h0M100.6 246.2h0M139.6 255.9h0M102.7 263.6h0M126.4 217.6h0M150.5 220.4h0M118.6 253.9h0M170.2 184.9h0M137.8 257.9h0M79.4 297.1h0M132.2 197.0h0M172.1 169.7h0M156.1 220.4h0M132.3 207.6h0M187.1 265.3h0M151.9 279.5h0M170.3 270.5h0M113.1 284.7h0M173.2 158.9h0M188.1 267.0h0M165.7 269.7h0M175.8 272.2h0M127.6 241.4h0M139.9 187.2h0M183.8 268.1h0M178.7 268.1h0M147.7 272.9h0M110.6 225.4h0M126.9 290.5h0M83.5 291.7h0M207.6 157.5h0M128.0 179.5h0M105.5 297.4h0M114.1 209.4h0M130.0 262.1h0M191.2 269.3h0M141.3 211.7h0M197.6 257.9h0M120.4 266.8h0M164.0 267.6h0M191.2 252.4h0M204.7 263.5h0M186.8 277.3h0M100.3 264.4h0M87.0 295.1h0M198.0 274.3h0M165.0 269.0h0M188.1 267.8h0M198.5 266.9h0M133.2 242.4h0M137.4 273.7h0M103.4 255.7h0M180.1 257.3h0M99.0 276.4h0M183.7 271.5h0M197.3 259.8h0M128.9 254.8h0M101.0 276.7h0M218.8 174.1h0M201.0 258.8h0M168.1 166.2h0M155.4 262.2h0M184.1 227.4h0M120.3 221.4h0M171.1 225.2h0M129.0 191.1h0M179.7 270.6h0M203.9 264.1h0M149.8 202.3h0M266.0 216.6h0M253.4 265.3h0M182.0 267.9h0M226.9 265.6h0M85.0 294.0h0M143.0 245.1h0M163.3 275.4h0M117.2 196.9h0M154.7 224.3h0M134.3 204.9h0M109.1 269.4h0M165.7 230.4h0M190.8 282.5h0M206.7 255.9h0M97.1 255.3h0M160.5 268.1h0M174.8 264.7h0M176.4 277.7h0M175.1 261.9h0M134.9 246.2h0M206.4 211.7h0M113.0 255.8h0M170.7 237.0h0M207.6 260.2h0M210.4 265.9h0M166.9 208.2h0M129.4 229.5h0M213.3 222.6h0M116.4 233.0h0M132.3 242.5h0M173.2 247.6h0M145.6 207.1h0M140.9 284.6h0M105.0 272.1h0M140.4 200.0h0M170.8 221.7h0M151.4 287.6h0M132.9 197.4h0M209.6 151.0h0M183.6 268.7h0M193.9 275.0h0M204.1 255.4h0M165.0 198.8h0M205.3 261.0h0M116.5 241.3h0M154.4 173.7h0M151.5 272.5h0M173.4 215.7h0M156.0 220.7h0M145.6 193.5h0M133.5 266.7h0M196.8 246.0h0M215.9 269.9h0M133.4 277.7h0M178.8 159.1h0M189.8 238.6h0M198.8 259.7h0M134.6 258.7h0M188.5 262.9h0M152.7 248.8h0M189.2 269.0h0M114.0 282.0h0M136.0 170.3h0"/>
<path stroke="rgb(196,196,196)" stroke-width="2.56" d="M185.8 276.5h0M135.7 214.0h0M108.2 290.4h0M125.6 248.1h0M140.7 239.8h0M94.3 294.0h0M155.2 210.9h0M107.9 224.7h0M136.2 217.8h0M195.0 216.9h0M192.2 265.3h0M188.3 266.5h0M88.5 292.0h0M162.5 259.1h0M190.2 265.5h0M117.9 261.7h0M202.3 273.9h0M175.2 263.5h0M247.7 269.6h0M218.9 225.1h0M156.7 263.1h0M153.5 253.8h0M197.1 251.4h0M189.2 271.9h0M156.3 226.1h0M128.7 261.3h0M122.5 263.7h0M220.8 250.5h0M132.4 218.0h0M137.3 260.5h0M196.8 271.1h0M170.7 152.5h0M226.7 249.6h0M117.3 263.6h0M175.7 280.4h0M119.4 237.5h0M133.5 232.3h0M161.7 250.7h0M185.8 269.6h0M101.8 250.3h0M150.1 234.8h0M98.7 255.2h0M210.3 179.9h0M159.5 261.1h0M171.3 257.2h0M182.2 187.3h0M109.8 286.0h0M215.9 227.7h0M127.1 212.1h0M181.9 263.2h0M207.6 210.1h0M183.8 268.8h0M178.7 233.9h0M192.4 169.3h0M135.6 287.4h0M137.5 196.8h0M128.0 173.4h0M123.5 228.4h0M232.3 251.7h0M209.1 244.2h0M133.3 211.0h0M211.8 205.0h0M121.0 275.4h0M80.9 290.4h0M198.6 167.7h0M128.2 212.6h0M168.6 280.7h0M199.4 266.0h0M125.6 228.6h0M130.6 217.1h0M152.0 208.6h0M117.8 232.0h0M125.2 249.0h0M153.3 208.0h0M155.8 206.2h0M145.6 215.2h0M136.6 188.5h0M107.3 243.3h0M115.1 217.5h0M187.8 208.7h0M217.6 175.5h0M217.0 195.3h0M126.6 204.2h0M115.5 276.0h0M116.6 223.6h0M127.7 194.9h0M159.1 195.7h0M126.5 275.0h0M181.3 271.6h0M199.0 267.8h0M218.5 181.0h0M165.0 233.1h0M146.3 181.7h0M133.7 252.4h0M182.8 200.6h0M194.9 256.9h0M112.1 268.9h0M160.9 273.6h0M108.8 234.0h0M130.2 233.9h0M127.9 227.6h0M194.9 270.0h0M187.4 261.5h0M234.2 259.0h0M117.5 212.5h0M135.6 204.2h0M152.9 244.5h0M179.2 279.2h0M167.1 284.7h0M223.7 251.7h0M122.2 233.6h0M174.3 275.2h0M170.9 166.8h0M155.6 208.2h0M152.4 164.4h0M102.4 249.8h0M154.1 224.7h0M196.3 266.8h0M132.2 240.1h0M141.7 276.2h0M141.2 244.8h0M149.7 172.7h0M125.5 209.0h0M138.1 253.0h0M149.2 172.9h0M138.5 245.7h0M206.3 259.7h0M151.9 205.1h0M206.3 264.3h0M181.5 273.1h0M234.9 274.0h0M165.9 178.2h0M210.8 272.4h0M149.8 255.3h0M174.2 217.3h0M112.5 292.4h0M132.7 271.2h0M182.3 261.8h0M188.9 241.1h0M139.4 198.0h0M179.0 256.9h0M216.7 256.0h0M154.3 278.3h0M89.6 288.9h0M142.5 166.6h0M228.1 269.4h0M191.5 280.4h0M191.9 274.7h0M129.9 211.2h0M118.5 243.9h0M191.5 257.1h0M134.4 241.0h0M150.9 240.8h0M146.5 251.3h0M208.3 262.1h0M135.8 229.4h0M184.0 257.3h0M187.5 264.5h0M121.6 235.2h0M174.5 207.0h0M176.7 239.0h0M136.9 161.3h0M209.9 181.7h0M181.7 252.3h0M148.2 156.1h0M196.7 256.6h0M145.0 203.1h0M183.3 262.3h0M123.1 234.4h0M154.2 270.3h0M175.7 247.7h0M167.4 152.7h0M114.9 254.2h0M172.2 196.2h0M215.8 261.1h0M155.1 260.2h0M163.5 197.2h0M188.3 270.0h0M123.9 222.1h0M129.3 222.3h0M180.2 270.5h0M126.3 284.8h0M99.0 278.9h0M180.8 273.0h0M115.3 264.4h0M103.6 233.6h0M103.7 274.5h0M175.5 142.9h0M286.0 217.7h0M120.7 260.4h0M146.3 259.2h0M190.0 271.6h0M145.9 152.5h0M101.7 244.2h0M152.4 196.1h0M203.5 165.4h0M211.5 247.9h0M144.7 237.1h0M185.2 191.9h0M144.6 220.2h0M152.2 259.6h0M162.3 215.3h0M144.2 156.8h0M184.3 190.8h0M136.3 202.4h0M124.8 243.3h0M151.7 219.7h0M138.5 243.6h0M129.7 242.2h0M169.4 252.5h0M188.2 261.8h0M171.6 161.1h0M179.3 172.4h0M153.5 201.8h0M190.9 185.1h0M103.7 245.3h0M214.1 265.3h0M175.4 272.3h0M170.9 276.4h0M151.1 214.6h0M123.9 199.3h0M142.2 239.7h0M123.5 231.8h0M107.6 247.7h0M124.3 259.1h0M132.5 181.9h0M130.3 250.2h0M195.3 267.0h0M101.1 243.2h0M134.7 222.2h0M179.8 269.4h0M163.2 241.7h0M142.2 171.3h0M184.4 279.4h0M123.6 238.9h0M161.7 221.3h0M149.4 255.0h0M159.2 165.7h0M147.2 200.3h0M133.0 182.5h0M178.3 280.4h0M193.3 266.4h0M216.3 160.7h0M147.1 244.7h0M136.6 185.7h0M141.2 250.2h0M138.2 223.6h0M217.5 209.8h0M154.2 219.4h0M103.4 255.2h0M206.4 276.9h0M177.7 212.3h0M90.7 292.2h0M181.9 156.5h0M144.2 180.9h0M150.8 254.2h0M170.0 285.2h0M151.0 221.6h0M198.9 264.4h0M210.0 267.2h0M127.6 244.1h0M103.6 292.0h0M115.7 267.8h0M98.3 290.7h0M124.8 201.6h0M224.2 252.4h0M172.1 161.8h0M198.0 264.7h0M162.1 170.7h0M202.3 276.1h0M140.6 262.4h0M183.5 156.2h0M169.8 208.2h0M209.5 258.6h0M183.8 171.8h0M196.2 267.1h0M89.1 267.7h0M155.6 259.2h0M170.6 164.0h0M117.1 248.4h0M121.7 263.0h0M136.7 217.9h0M90.4 291.0h0M155.8 196.6h0M207.5 273.0h0M123.0 198.7h0M135.9 216.5h0M122.6 221.9h0M137.8 230.1h0M120.6 215.7h0M133.9 276.5h0M202.2 231.4h0M84.7 286.3h0M144.3 256.5h0M167.4 194.7h0M130.1 272.2h0"/>
<path stroke="rgb(179,179,179)" stroke-width="2.64" d="M149.5 204.8h0M138.3 202.9h0M122.1 275.2h0M191.2 196.0h0M173.2 201.7h0M167.0 280.8h0M147.8 239.2h0M178.3 231.0h0M161.7 159.6h0M155.8 205.4h0M111.4 241.2h0M176.2 242.1h0M170.3 188.5h0M209.4 157.5h0M134.4 222.0h0M244.2 264.1h0M137.7 220.1h0M115.0 250.8h0M237.9 248.8h0M190.1 253.5h0M164.1 190.8h0M178.3 275.0h0M132.1 214.2h0M204.7 269.8h0M114.3 222.5h0M149.5 153.1h0M164.3 264.0h0M227.7 264.0h0M146.8 154.2h0M133.5 240.4h0M208.6 261.0h0M133.1 225.5h0M175.7 275.0h0M143.9 188.9h0M98.3 247.7h0M241.3 252.0h0M134.9 245.8h0M192.1 217.8h0M136.1 195.4h0M152.8 170.2h0M204.0 269.2h0M188.6 208.2h0M137.5 215.3h0M211.4 269.6h0M196.8 254.0h0M88.0 254.1h0M164.6 188.8h0M164.8 253.0h0M116.0 254.5h0M215.1 217.3h0M194.2 204.4h0M95.3 259.1h0M207.9 260.7h0M211.5 242.4h0M101.1 253.1h0M154.1 233.5h0M182.7 200.1h0M185.3 252.0h0M190.0 227.5h0M135.3 214.7h0M141.1 173.4h0M159.7 192.5h0M144.0 260.5h0M180.1 228.9h0M122.5 146.7h0M164.8 255.6h0M189.5 198.4h0M151.5 247.4h0M100.4 257.1h0M160.5 192.2h0M175.1 230.4h0M176.4 185.1h0M208.4 259.9h0M138.0 248.5h0M113.3 227.7h0M100.8 248.7h0M187.7 219.6h0M158.4 241.9h0M204.5 184.3h0M123.4 204.8h0M189.1 271.2h0M190.3 274.5h0M134.5 186.9h0M144.1 204.8h0M125.5 192.8h0M138.9 231.1h0M202.9 259.0h0M184.0 227.0h0M129.7 226.5h0M152.7 204.3h0M196.4 262.1h0M106.8 230.9h0M174.1 277.1h0M158.4 160.0h0M152.0 248.9h0M127.3 194.6h0M155.4 242.0h0M125.9 196.3h0M99.8 239.6h0M140.2 232.6h0M151.5 215.8h0M133.6 231.7h0M160.5 239.8h0M113.9 228.6h0M166.4 233.9h0M162.9 200.8h0M114.4 234.7h0M239.2 271.8h0M146.7 198.9h0M220.9 250.3h0M158.0 183.1h0M203.4 182.6h0M185.6 249.4h0M186.9 242.5h0M183.9 195.4h0M178.3 231.3h0M227.6 265.3h0M135.7 200.5h0M163.7 260.3h0M143.8 269.3h0M147.5 206.4h0M125.4 234.9h0M180.2 264.1h0M99.2 242.2h0M151.5 230.6h0M174.8 282.1h0M134.7 253.5h0M139.5 223.4h0M214.1 252.1h0M156.9 198.2h0M144.4 269.1h0M194.1 221.2h0M167.8 221.5h0M140.7 232.5h0M212.0 259.6h0M211.8 265.1h0M176.0 153.3h0M138.3 180.8h0M189.4 252.6h0M207.7 199.4h0M218.8 156.0h0M222.2 165.8h0M140.8 254.0h0M147.0 248.2h0M155.4 262.4h0M167.8 210.5h0M124.9 238.7h0M195.7 242.9h0M156.2 216.0h0M160.1 160.6h0M190.0 252.9h0M203.5 267.2h0M202.4 270.1h0M165.7 168.2h0M158.2 238.5h0M122.5 200.7h0M172.5 262.2h0M125.5 214.7h0M167.3 198.6h0M125.1 178.5h0M121.9 248.1h0M139.7 247.3h0M182.3 214.1h0M138.0 261.7h0"/>
<path stroke="rgb(160,160,160)" stroke-width="2.72" d="M196.1 166.8h0M118.3 232.8h0M151.9 197.1h0M206.3 267.7h0M171.4 274.0h0M116.8 244.2h0M181.7 192.4h0M183.5 212.0h0M183.8 215.2h0M203.0 264.1h0M182.3 167.3h0M157.1 200.9h0M168.4 279.7h0M129.8 194.6h0M124.5 217.2h0M139.7 222.6h0M113.8 272.0h0M187.9 252.8h0M215.0 206.5h0M177.2 251.0h0M152.6 194.9h0M147.6 253.7h0M173.1 272.5h0M155.9 227.0h0M135.3 233.9h0M185.2 230.7h0M178.1 283.5h0M208.1 256.0h0M167.6 153.3h0M179.5 225.5h0M241.8 212.1h0M195.9 244.0h0M212.0 268.8h0M181.2 244.4h0M146.1 229.7h0M177.7 275.4h0M139.8 258.4h0M199.3 274.9h0M169.9 169.9h0M184.1 269.6h0M205.5 243.9h0M152.9 257.8h0M202.8 206.0h0M121.5 218.2h0M168.0 282.0h0M149.8 234.0h0M217.6 218.3h0M116.1 249.8h0M161.4 211.0h0M230.9 272.8h0M146.7 215.5h0M166.9 202.7h0M95.7 249.3h0M116.5 208.1h0M193.9 256.6h0M185.5 276.5h0M125.9 205.4h0M193.2 274.0h0M167.6 185.8h0M141.3 241.9h0M159.7 247.6h0M144.5 230.7h0M209.3 172.2h0M116.3 250.3h0M177.8 245.0h0M115.7 263.1h0M113.9 219.7h0M160.2 227.5h0M177.0 190.1h0M155.7 259.8h0M174.7 182.3h0M173.7 173.8h0M95.8 254.3h0M175.2 187.0h0M155.7 183.7h0M176.2 225.8h0M180.2 172.9h0M175.4 256.0h0M138.9 250.8h0M176.8 233.6h0M203.1 246.4h0M221.2 198.3h0M173.3 214.7h0M186.0 275.3h0M143.9 196.1h0M158.5 253.0h0M152.9 259.8h0M161.3 260.5h0M154.4 155.1h0M235.1 250.9h0M200.7 167.4h0M171.3 225.2h0M138.0 246.4h0M181.7 244.9h0M135.8 224.2h0M218.8 234.4h0M217.4 265.9h0M172.7 248.9h0M216.4 263.6h0M166.1 200.9h0M156.1 200.2h0M210.7 237.7h0M181.9 256.5h0M159.4 181.2h0M178.0 275.4h0M168.1 208.6h0M218.3 180.1h0M221.0 173.7h0M174.8 254.6h0M174.9 273.6h0M142.2 194.2h0M146.4 180.6h0M212.8 152.6h0M143.6 228.5h0M203.7 169.6h0M160.2 234.0h0M204.4 154.6h0M121.5 184.3h0M154.5 224.8h0M136.7 187.7h0M189.3 194.3h0M175.6 199.4h0M139.1 228.7h0M153.0 209.1h0M135.4 255.5h0M188.4 181.9h0M161.8 223.0h0M221.5 160.5h0M162.5 240.9h0"/>
<path stroke="rgb(141,141,141)" stroke-width="2.81" d="M223.7 232.6h0M175.7 175.7h0M164.3 240.9h0M125.1 254.8h0M173.2 279.9h0M130.9 250.0h0M204.5 161.1h0M165.7 166.6h0M142.7 205.9h0M149.3 167.3h0M195.2 267.4h0M169.4 278.6h0M119.5 206.1h0M160.4 213.2h0M205.7 245.9h0M204.5 235.5h0M201.8 264.9h0M156.1 262.5h0M213.7 201.0h0M161.4 220.0h0M151.9 238.6h0M196.8 238.0h0M180.5 227.2h0M159.4 171.9h0M132.4 235.5h0M175.9 207.6h0M156.1 237.6h0M190.1 224.4h0M172.6 164.6h0M200.2 184.5h0M169.2 284.1h0M143.8 246.3h0M155.5 190.8h0M235.0 266.9h0M133.8 221.3h0M212.2 210.7h0M218.7 207.9h0M215.9 243.0h0M186.5 245.5h0M214.7 175.5h0M180.3 244.5h0M127.6 229.5h0M126.6 199.0h0M137.1 257.3h0M220.4 166.7h0M168.4 274.9h0M181.9 272.6h0M197.6 233.7h0M167.7 216.5h0M169.9 269.1h0M159.5 234.6h0M191.9 272.3h0M142.2 214.9h0M120.3 219.5h0M168.5 205.2h0M144.8 220.3h0M192.8 276.8h0M194.6 258.6h0M187.1 182.4h0M183.1 228.8h0M208.6 264.9h0M171.3 219.2h0M109.5 252.0h0M198.5 210.9h0M163.3 201.2h0M149.3 227.6h0M182.6 277.3h0M95.6 255.1h0M216.6 163.9h0M200.9 271.6h0M145.7 223.7h0M139.7 217.6h0M183.8 208.7h0M239.2 260.8h0M172.5 201.4h0M151.1 160.2h0M210.2 235.4h0M195.5 248.7h0M154.3 191.0h0M194.8 241.6h0M172.5 194.1h0M157.0 238.6h0M203.4 234.4h0M158.1 229.2h0M174.4 180.5h0M198.8 235.3h0M169.2 213.5h0M159.6 203.8h0M184.2 216.3h0M180.4 272.3h0M121.6 229.1h0M193.8 166.3h0M141.8 233.2h0M218.4 172.6h0M190.3 210.0h0M145.0 245.3h0M185.0 235.7h0M159.7 235.8h0M187.5 251.7h0M164.5 264.0h0M131.4 189.9h0M164.5 202.6h0M188.4 223.0h0M255.0 133.0h0M221.3 220.4h0M234.2 209.0h0M163.8 233.7h0M195.5 181.6h0M175.1 231.6h0M157.6 212.7h0M198.8 232.5h0M207.1 266.9h0M135.3 225.8h0M187.3 163.3h0M193.2 242.5h0M177.8 278.4h0M208.3 225.3h0M158.7 161.2h0M193.2 162.4h0M166.8 207.6h0M215.7 254.0h0M154.0 256.6h0M182.6 205.9h0M217.9 247.1h0M196.2 267.7h0M178.5 152.2h0M179.1 226.4h0M111.9 230.9h0M167.0 174.1h0"/>
<path stroke="rgb(124,124,124)" stroke-width="2.89" d="M128.5 256.0h0M213.3 178.5h0M195.5 241.9h0M147.2 202.9h0M186.3 180.1h0M152.8 151.4h0M182.5 243.8h0M168.8 243.9h0M149.6 188.9h0M208.1 259.3h0M197.6 268.8h0M233.8 259.1h0M166.4 203.8h0M149.9 191.5h0M161.9 219.2h0M175.8 178.5h0M188.7 270.0h0M196.3 272.7h0M150.7 198.9h0M168.7 198.0h0M178.3 174.4h0M219.0 167.9h0M150.0 165.1h0M229.9 268.2h0M165.0 238.1h0M194.8 265.6h0M151.2 155.1h0M145.5 230.9h0M164.8 265.6h0M157.3 203.8h0M180.7 275.5h0M195.0 237.4h0M179.6 259.9h0M199.4 269.9h0M159.1 198.5h0M195.5 246.0h0M159.5 267.3h0M167.2 251.7h0M237.2 234.3h0M164.3 243.0h0M190.3 209.9h0M174.1 261.6h0M161.2 163.9h0M178.7 272.8h0M190.7 222.3h0M199.5 257.6h0M218.8 238.9h0M185.8 235.7h0M148.4 168.6h0M172.5 270.3h0M152.0 154.6h0M162.0 198.7h0M147.8 211.7h0M158.9 160.5h0M129.0 263.5h0M154.1 262.6h0M173.3 273.4h0M204.6 274.7h0M145.0 254.8h0M237.6 223.9h0M198.6 238.1h0M158.4 183.6h0M186.1 272.9h0M175.7 224.4h0M230.9 206.0h0M247.0 123.9h0M238.2 152.0h0M236.6 215.5h0M147.0 139.1h0M229.7 230.5h0M242.2 268.7h0M244.2 246.6h0M179.3 232.8h0M184.8 249.0h0M201.2 216.0h0M218.7 234.5h0M171.8 254.5h0M173.0 223.0h0M220.2 153.8h0M167.1 191.2h0M150.7 241.2h0M171.8 227.4h0M186.3 187.2h0M181.8 253.0h0M142.3 220.9h0M150.6 177.7h0M178.7 254.1h0M191.9 181.9h0M141.6 225.8h0M197.7 179.5h0M217.3 167.0h0M185.8 213.2h0M131.6 251.5h0M174.6 189.0h0M165.3 220.2h0M162.3 223.8h0M212.2 176.8h0M163.1 149.1h0M162.0 188.3h0M238.3 225.9h0M170.3 195.8h0M156.3 214.7h0M194.9 245.6h0M238.3 245.9h0M215.9 210.6h0M200.2 250.3h0"/>
<path stroke="rgb(107,107,107)" stroke-width="2.9" d="M122.6 249.2h0M195.1 193.5h0M129.7 255.7h0M166.9 249.0h0M210.0 243.4h0M150.8 153.0h0M191.2 254.8h0M170.9 199.3h0M143.1 236.2h0M213.1 237.6h0M176.3 190.0h0M125.3 245.8h0M216.9 186.7h0M221.9 165.2h0M184.4 246.2h0M134.2 238.6h0M185.5 223.2h0M158.9 204.7h0M122.6 248.3h0M139.5 251.3h0M192.3 259.4h0M168.2 250.9h0M155.7 213.4h0M156.0 230.8h0M218.6 237.6h0M154.4 265.4h0M208.3 177.9h0M147.3 239.1h0M222.0 171.2h0M154.2 212.9h0M221.8 163.0h0M177.4 175.1h0M165.0 256.7h0M157.9 162.4h0M160.4 164.1h0M155.6 229.3h0M129.2 240.4h0M235.8 162.7h0M226.1 218.2h0M281.2 217.0h0M204.3 240.2h0M140.9 251.8h0M184.2 241.9h0M184.6 235.4h0M158.6 212.7h0M127.1 234.3h0M164.4 150.9h0M157.5 212.4h0M163.9 233.2h0M115.5 260.8h0M178.6 205.9h0M163.6 186.3h0M199.8 243.3h0M216.1 182.4h0M154.9 236.8h0M140.8 230.2h0M221.2 152.7h0M220.0 196.6h0M170.6 223.5h0M207.7 211.5h0M158.7 217.3h0M172.7 193.1h0M139.5 257.5h0M181.7 216.3h0M217.1 239.2h0M195.1 239.8h0M132.9 242.2h0M164.6 230.0h0M172.0 189.7h0M204.1 170.5h0M155.2 219.8h0M152.6 195.8h0M172.4 173.5h0M158.4 218.8h0M195.0 211.4h0M128.5 240.8h0M185.3 232.2h0M153.3 167.8h0M212.8 206.4h0M145.1 236.7h0M187.3 173.4h0M159.6 198.4h0M201.7 237.5h0M168.8 195.0h0M141.0 225.5h0M180.4 203.7h0"/>
<path stroke="rgb(90,90,90)" stroke-width="2.9" d="M178.2 220.1h0M220.5 149.1h0M225.9 252.8h0M222.8 165.3h0M139.6 245.8h0M150.4 180.1h0M211.4 173.6h0M246.1 270.3h0M149.4 227.8h0M149.9 206.1h0M215.0 223.6h0M251.0 221.2h0M259.9 205.2h0M242.2 202.2h0M173.5 252.3h0M119.5 229.8h0M171.1 192.6h0M223.2 178.5h0M163.4 209.0h0M203.0 202.0h0M201.1 233.3h0M139.8 225.9h0M197.4 216.8h0M167.8 255.8h0M133.1 231.2h0M197.9 247.8h0M244.8 237.8h0M156.0 222.4h0M160.0 196.2h0M232.3 269.8h0M145.3 217.3h0M171.7 228.1h0M171.1 189.4h0M153.3 186.1h0M173.8 223.8h0M161.5 260.4h0M168.1 169.8h0M183.4 228.5h0M137.8 256.6h0M198.7 185.4h0M199.4 160.2h0M182.7 216.2h0M182.0 214.1h0M214.2 158.7h0M173.4 188.5h0M203.5 157.2h0M152.0 153.6h0M154.8 206.1h0M166.3 237.0h0M165.3 217.4h0M189.4 246.1h0M168.2 228.0h0M219.1 181.8h0M179.0 181.6h0M222.2 187.3h0M148.3 200.3h0M188.5 189.4h0M160.0 257.3h0M166.4 237.0h0M207.7 237.9h0M154.1 200.0h0M160.9 202.7h0M141.5 226.7h0M140.2 227.7h0M141.6 266.6h0M187.8 248.4h0"/>
<path stroke="rgb(71,71,71)" stroke-width="2.9" d="M231.3 200.7h0M203.7 167.8h0M193.4 252.5h0M161.9 241.3h0M178.7 178.6h0M212.1 224.5h0M216.5 157.7h0M141.5 213.2h0M158.2 171.7h0M238.7 252.5h0M199.6 242.5h0M166.6 174.6h0M176.4 214.1h0M159.6 254.3h0M160.4 225.5h0M189.0 246.5h0M180.2 209.5h0M146.7 156.0h0M159.7 233.6h0M163.5 189.6h0M195.7 242.7h0M190.5 166.3h0M156.0 191.6h0M153.9 160.6h0M178.0 181.4h0M141.5 233.8h0M151.8 207.4h0M165.8 164.8h0M166.8 205.9h0"/>
<path stroke="rgb(48,48,48)" stroke-width="2.9" d="M227.4 245.1h0M146.0 163.0h0M231.4 264.2h0M210.8 245.2h0M207.6 158.9h0M203.6 156.6h0M195.2 255.2h0M220.9 185.0h0M193.7 248.7h0M167.2 205.3h0M153.1 218.5h0M164.8 244.1h0M192.1 242.8h0M237.0 251.6h0M235.8 225.8h0M178.8 142.9h0M192.7 228.9h0M198.1 245.4h0M170.3 174.6h0M235.6 264.2h0M196.7 242.0h0M219.9 182.7h0M164.4 172.5h0M202.8 171.7h0M186.3 188.3h0M193.0 174.3h0"/>
<path stroke="rgb(28,28,28)" stroke-width="2.9" d="M209.7 172.3h0M150.7 205.0h0M152.5 154.8h0M193.6 249.7h0M195.4 236.5h0M196.9 190.0h0M210.9 210.0h0M246.6 264.9h0M222.1 262.2h0M221.7 238.7h0M233.4 250.1h0M215.7 252.1h0M211.1 220.0h0M150.4 167.6h0M184.9 245.6h0M235.0 262.8h0M204.8 180.2h0"/>
<path stroke="rgb(9,9,9)" stroke-width="2.9" d="M203.3 248.5h0M196.0 169.6h0M224.5 167.2h0M230.9 188.5h0M251.8 154.7h0M224.9 157.7h0M220.9 206.8h0M162.8 188.7h0M159.1 172.0h0M146.6 149.0h0M237.0 143.7h0M243.8 150.9h0M149.8 129.6h0M186.8 202.5h0"/>
</g>
<g clip-path="url(#cb)" fill="none" stroke-linecap="round">
<path stroke="rgb(251,251,251)" stroke-opacity="0.7" stroke-width="1.94" d="M417.7 292.4h0M417.6 289.1h0M446.3 288.1h0M419.7 292.4h0M432.1 287.5h0M392.8 295.6h0M410.7 293.4h0M441.8 284.7h0M437.6 289.8h0M382.4 294.3h0M376.6 297.5h0M468.3 286.4h0M389.1 297.8h0M421.7 296.8h0M470.4 288.3h0M433.3 291.4h0M406.0 295.4h0M433.9 293.3h0M391.6 290.8h0M370.8 299.6h0M388.3 296.8h0M468.2 287.1h0M380.5 300.2h0M402.9 292.8h0M409.7 295.9h0M425.8 290.3h0M410.3 294.2h0M408.6 293.5h0M380.0 291.3h0M452.4 289.1h0M401.2 294.4h0M423.0 291.5h0M489.7 277.3h0M426.7 295.1h0M396.4 299.7h0M405.1 295.4h0M370.8 298.5h0M395.9 292.9h0M393.3 295.5h0M350.2 305.4h0M442.6 289.8h0M377.7 294.1h0M375.3 297.3h0M391.6 299.7h0M418.1 293.7h0M380.2 298.7h0M410.3 289.5h0M382.6 300.0h0M426.2 290.5h0M399.7 296.7h0M387.5 297.7h0M486.2 283.3h0M409.7 294.2h0M473.5 286.0h0M418.0 290.8h0M422.2 290.2h0M389.7 292.1h0M405.2 297.6h0M522.5 276.5h0M458.2 287.6h0M439.3 286.4h0M391.5 296.0h0M426.3 291.5h0M455.7 286.8h0M429.7 289.7h0M383.1 295.1h0M394.5 296.3h0M383.5 296.2h0M474.3 280.7h0M435.6 288.8h0M415.1 292.4h0M498.1 282.6h0M398.1 291.1h0M372.3 295.8h0M379.0 295.5h0M420.2 294.1h0M385.3 297.8h0M387.9 295.3h0M518.2 277.0h0M415.3 294.0h0M444.2 290.9h0M415.3 288.3h0M465.1 285.6h0M477.3 289.0h0M391.2 297.4h0M533.3 285.4h0M392.4 298.0h0M484.5 290.7h0M472.9 290.5h0M370.8 299.8h0M395.5 294.1h0M373.2 295.0h0M413.1 288.2h0M446.6 281.6h0M370.0 295.9h0M423.4 291.9h0M463.1 280.7h0M431.5 289.9h0M443.6 287.3h0M449.4 292.0h0M427.4 293.5h0M504.2 283.4h0M458.3 293.6h0M436.2 286.6h0M442.0 290.0h0M466.2 283.2h0M454.0 280.1h0M416.6 292.4h0M436.6 288.3h0M397.5 295.5h0M427.7 290.7h0M400.1 297.3h0M438.8 293.0h0M427.3 291.0h0M459.6 281.4h0M402.8 296.3h0M434.7 287.2h0M405.1 295.3h0M447.3 286.4h0M423.8 286.9h0"/>
<path stroke="rgb(244,244,244)" stroke-opacity="0.7" stroke-width="2.03" d="M362.2 300.7h0M434.1 295.4h0M377.2 298.2h0M453.1 286.7h0M482.1 287.7h0M498.1 282.0h0M474.7 287.8h0M396.5 294.9h0M372.7 295.5h0M355.7 298.4h0M392.1 294.0h0M416.5 291.7h0M403.5 294.9h0M395.6 296.1h0M415.8 289.3h0M412.8 290.2h0M450.2 285.4h0M453.9 284.8h0M477.4 284.1h0M535.2 282.4h0M445.1 287.3h0M421.0 294.9h0M395.1 296.4h0M432.6 295.6h0M386.1 299.4h0M389.3 296.2h0M400.1 291.6h0M424.3 293.6h0M400.8 292.1h0M413.5 290.4h0M423.5 289.9h0M377.7 297.1h0M498.1 285.2h0M433.1 287.2h0M475.9 285.8h0M421.6 291.7h0M389.8 291.5h0M433.3 290.6h0M379.1 301.5h0M410.7 290.1h0M435.9 281.5h0M426.4 293.0h0M390.6 295.8h0M413.6 290.1h0M417.0 292.8h0M543.4 279.9h0M467.0 287.5h0M429.7 290.9h0M416.8 290.9h0M405.5 296.6h0M481.5 282.3h0M397.7 294.7h0M396.7 293.4h0M381.9 299.0h0M371.5 300.1h0M370.1 300.5h0M413.5 292.8h0M477.2 286.6h0M409.8 290.7h0M436.8 286.4h0M423.3 293.7h0M411.1 292.2h0M522.2 282.6h0M466.5 286.4h0M375.9 298.7h0M391.0 296.9h0M409.9 293.0h0M358.6 299.3h0M421.9 290.1h0M389.5 295.1h0M424.6 295.4h0M398.5 296.9h0M475.7 284.4h0M410.9 293.0h0M379.3 295.5h0M437.1 282.5h0M352.3 306.7h0M449.8 291.0h0M415.9 292.9h0M492.1 284.2h0M393.0 295.7h0M396.5 295.6h0M405.4 289.4h0M402.4 293.0h0M374.7 297.8h0M445.4 288.7h0M378.7 300.5h0M376.5 295.5h0M421.5 291.0h0M416.9 284.5h0M409.7 293.5h0M417.4 291.4h0M414.1 290.2h0M393.4 292.5h0M378.3 298.1h0M408.5 292.3h0M373.3 300.4h0M486.5 282.0h0M479.5 285.8h0M421.7 290.7h0M375.9 300.1h0M374.8 295.7h0M536.4 283.6h0M417.4 290.5h0M387.5 295.6h0M400.8 293.0h0M421.7 290.6h0M417.2 283.8h0M366.6 303.5h0M381.9 297.8h0M423.3 286.4h0M379.7 298.9h0M401.7 293.3h0M439.0 287.4h0M368.7 298.9h0M489.4 283.8h0M437.9 288.3h0M419.2 289.8h0M387.3 301.5h0M510.6 284.6h0M435.4 287.6h0M387.1 292.9h0M489.6 289.3h0M435.2 287.6h0M394.4 295.9h0M388.5 294.6h0M384.4 295.3h0M476.9 280.5h0M396.5 297.8h0M426.6 292.4h0M402.4 293.7h0M461.1 286.3h0M412.8 291.9h0M388.8 299.4h0M461.6 292.2h0M491.1 290.8h0M418.6 290.1h0M370.6 298.1h0M395.5 299.4h0M406.9 299.3h0M418.2 292.0h0M449.9 292.1h0M423.7 290.8h0M367.0 299.2h0M402.0 294.5h0M431.1 288.5h0M499.8 276.8h0M498.1 287.3h0M402.9 299.6h0M390.9 296.0h0M415.0 293.0h0M443.2 287.0h0M383.1 291.4h0M433.0 291.1h0M476.9 286.9h0M480.5 278.0h0M440.7 293.2h0M439.4 289.4h0M404.1 295.7h0M417.0 299.4h0M382.2 292.4h0M371.8 298.4h0M410.1 296.1h0M396.7 297.3h0M460.1 289.8h0M419.1 289.2h0M394.2 296.2h0M416.1 294.2h0M479.9 283.2h0M462.1 282.8h0M476.3 281.2h0M364.9 295.1h0M406.6 293.7h0M430.3 288.3h0M400.4 288.7h0M375.5 299.3h0M410.6 294.1h0M470.6 284.0h0M387.2 297.5h0M449.2 285.9h0M390.4 294.2h0M389.5 298.3h0M432.7 292.8h0M392.2 293.1h0M450.7 285.2h0M416.6 294.2h0M457.9 287.3h0M436.5 285.5h0M406.8 295.7h0M369.9 299.6h0M370.9 296.8h0M403.6 290.4h0M469.2 285.5h0M432.9 295.6h0M458.1 286.8h0M414.4 295.9h0M421.6 292.5h0M387.5 294.5h0M405.6 293.5h0M454.7 290.4h0M396.4 295.3h0M430.7 289.2h0M475.8 291.6h0M453.6 287.4h0M396.5 295.1h0M406.6 290.7h0M425.1 290.8h0M446.6 280.8h0M386.5 298.2h0M472.6 285.7h0M373.6 299.9h0M395.1 294.7h0M419.1 297.4h0M401.9 292.3h0M386.4 303.9h0M495.6 283.9h0M401.5 293.6h0M412.8 293.8h0M394.7 290.3h0M388.9 299.1h0M367.8 297.9h0M394.3 296.0h0M440.9 285.6h0M422.1 288.7h0M410.6 294.6h0M401.8 298.6h0M378.7 294.2h0M439.7 291.8h0M424.1 290.4h0M405.7 295.3h0M421.2 289.1h0M412.7 297.3h0M459.8 283.4h0M388.0 295.5h0M424.2 284.4h0M421.2 291.4h0M376.1 297.6h0M449.9 286.9h0M384.9 293.7h0M393.5 293.7h0M436.0 292.8h0M418.2 292.9h0M442.9 286.5h0M428.7 294.0h0M456.2 292.3h0M418.6 294.7h0M427.2 291.4h0M412.3 292.6h0M449.2 283.3h0M464.0 287.6h0M382.2 301.1h0M473.5 290.8h0M449.5 286.1h0M496.2 278.6h0M444.2 289.5h0M396.8 295.4h0M491.3 282.8h0M455.1 280.1h0M460.6 288.1h0M389.4 297.2h0M460.8 285.4h0M433.1 288.7h0M460.2 279.9h0M421.5 286.9h0M405.7 290.0h0M496.5 283.8h0M461.5 291.3h0M497.9 276.2h0M436.3 291.1h0M455.9 293.3h0M517.4 289.0h0M454.8 289.1h0M392.8 291.6h0M385.8 291.6h0M412.3 292.7h0M436.6 291.6h0M394.3 297.2h0M369.2 195.7h0M528.0 276.8h0M487.2 287.4h0M503.5 280.4h0M415.8 290.8h0M362.0 297.6h0M405.3 201.6h0M399.3 297.2h0M404.0 288.5h0M468.0 284.4h0M379.4 296.1h0M499.7 276.4h0M427.1 285.3h0M491.0 281.8h0M440.1 289.8h0M370.0 257.7h0M505.7 274.2h0M417.1 294.0h0M394.2 294.4h0M406.1 295.9h0M448.3 292.1h0M382.5 300.0h0M448.6 284.3h0M454.5 288.7h0M406.5 293.0h0M421.7 284.7h0M391.9 296.7h0M449.0 283.8h0M391.8 294.2h0M401.4 297.2h0M376.9 298.1h0M418.1 289.4h0M408.9 294.5h0M417.5 288.7h0M392.1 295.6h0M407.9 296.3h0M412.0 293.4h0M395.4 294.4h0M491.3 289.9h0M484.7 284.5h0M456.6 283.2h0M484.4 286.7h0M399.2 296.5h0M411.6 292.3h0M392.5 295.5h0M374.4 274.6h0M463.9 284.1h0M522.4 281.7h0M387.5 298.6h0M468.4 286.7h0M403.0 297.1h0M423.5 287.5h0M417.4 288.0h0M391.7 298.5h0M430.6 287.5h0M454.1 279.3h0M392.4 294.3h0M361.3 301.0h0M454.9 288.0h0M359.9 299.8h0M384.7 261.5h0M452.9 282.6h0M379.8 297.4h0M460.1 283.4h0M394.9 291.0h0M453.9 280.1h0M380.1 185.4h0M371.6 299.1h0M405.4 291.1h0M534.0 281.2h0M425.5 288.7h0M404.6 297.0h0M442.1 287.1h0M450.9 288.5h0M391.4 298.4h0M430.9 285.5h0M439.5 289.5h0M415.1 296.5h0M429.6 289.5h0M449.3 284.8h0M426.5 288.1h0M436.8 289.0h0M375.6 302.1h0M512.6 280.3h0M476.9 286.0h0M439.2 281.9h0M409.6 296.4h0M450.5 289.3h0M502.7 286.4h0M398.2 296.3h0M380.0 292.8h0M468.9 287.4h0M524.0 284.9h0M468.9 286.1h0M392.7 293.8h0M444.0 283.6h0M380.0 295.9h0M386.6 297.7h0M385.0 295.1h0M428.0 293.0h0M455.1 293.3h0M375.6 255.1h0M378.3 297.0h0M403.5 292.7h0M389.4 299.3h0M437.1 285.4h0M391.5 298.3h0M378.2 217.4h0M371.2 299.6h0M412.7 295.3h0M428.5 290.1h0M464.1 288.7h0M428.1 288.4h0M400.8 296.3h0M371.5 302.1h0M400.7 289.1h0M432.0 291.1h0M377.2 298.0h0M387.4 297.2h0M369.7 301.7h0M455.2 287.9h0M396.4 296.6h0M401.5 295.8h0M384.5 295.3h0M467.3 286.7h0M381.6 217.9h0M409.8 289.3h0M383.5 250.4h0M418.2 293.9h0M392.9 297.2h0M445.0 285.9h0M433.2 289.2h0M402.7 298.1h0M409.3 291.7h0M412.9 293.5h0M379.3 293.7h0M381.1 296.5h0M418.3 286.6h0M546.8 273.9h0M447.2 296.6h0M422.7 292.9h0M393.7 293.0h0M373.9 299.8h0M431.6 292.1h0M479.3 280.4h0M439.2 288.0h0M422.4 292.8h0M382.5 299.0h0M418.6 292.1h0M391.1 296.8h0M388.1 292.5h0M426.4 297.3h0M508.9 281.4h0M407.1 296.5h0M369.9 220.2h0M408.7 290.6h0M366.6 245.3h0M433.4 290.6h0M399.4 292.6h0M442.3 289.2h0M402.8 294.7h0M515.9 283.5h0M496.3 285.1h0M410.4 287.9h0M449.1 283.2h0M385.2 299.8h0M404.7 289.3h0M363.9 300.8h0M449.6 289.4h0M423.2 289.2h0M405.9 294.5h0M384.9 196.9h0M422.2 291.6h0M463.9 284.8h0M383.9 299.0h0M474.8 282.2h0M425.5 290.4h0M449.2 286.6h0M445.5 291.1h0M411.6 289.7h0M438.6 289.5h0M453.5 284.7h0M540.6 280.0h0M395.2 293.7h0M382.9 299.0h0M424.6 290.7h0M406.9 291.3h0M367.4 301.0h0M473.4 287.0h0M449.5 286.7h0M397.0 297.9h0M454.7 285.6h0M476.1 286.0h0M486.2 281.9h0M476.9 288.4h0M428.0 286.4h0M403.9 291.6h0M536.8 283.3h0M393.3 293.1h0M406.3 291.5h0M444.1 287.6h0M383.9 296.4h0M407.6 294.4h0M503.6 290.6h0M450.3 286.9h0M392.2 297.6h0M401.8 294.2h0M513.3 282.4h0M387.6 295.3h0M415.9 290.8h0M424.3 295.2h0M398.7 283.5h0M368.9 298.7h0M405.3 293.4h0M415.8 292.4h0M422.2 287.2h0M467.6 285.2h0M476.8 286.8h0M459.6 287.5h0M416.9 292.2h0M453.6 285.1h0M471.0 281.8h0M423.1 288.9h0M395.9 299.7h0M393.9 297.4h0M388.7 298.1h0M401.4 294.6h0M500.3 281.9h0M429.9 296.3h0M372.6 298.1h0M378.3 297.6h0M392.4 301.1h0M397.0 272.3h0M405.3 293.5h0M482.0 285.8h0M492.1 287.5h0M447.8 285.7h0M385.8 210.7h0M545.1 287.1h0M374.2 300.8h0M379.0 294.6h0M400.1 291.9h0M469.3 289.0h0M395.8 298.2h0M373.6 303.4h0M381.2 302.4h0M378.3 298.5h0M392.0 297.0h0M390.9 266.6h0M386.9 297.6h0M406.5 293.1h0M499.9 279.0h0M456.5 285.5h0M412.6 297.6h0M398.1 293.9h0M417.4 287.7h0M433.1 288.6h0M415.0 294.5h0M427.9 292.1h0M461.2 285.5h0M413.9 291.4h0M431.9 288.4h0M378.6 299.3h0M408.4 289.8h0M379.0 299.1h0M436.7 289.9h0M416.3 292.5h0M411.3 296.3h0M467.5 285.0h0M381.1 205.2h0M363.5 278.8h0M464.7 290.6h0M374.0 297.2h0M418.8 286.9h0M388.5 297.7h0M418.1 293.1h0M383.1 299.6h0M431.2 287.2h0M453.0 289.0h0M401.0 296.3h0M458.8 289.7h0M350.8 260.3h0M422.6 294.3h0M448.9 290.5h0M382.2 299.5h0M467.5 288.0h0M395.0 294.6h0M475.2 283.2h0M368.9 300.4h0M440.3 286.7h0M394.2 294.6h0M488.7 289.6h0M500.2 286.0h0M464.8 284.2h0M367.7 297.0h0M486.2 288.7h0M394.8 243.3h0M387.6 297.8h0M444.6 287.7h0M369.2 297.4h0M435.5 291.2h0M426.9 291.4h0M401.5 293.8h0M441.7 287.3h0M398.1 295.2h0M401.6 293.5h0M411.5 288.9h0M396.1 294.4h0M354.6 225.7h0M423.7 286.1h0M348.3 304.5h0M376.0 295.2h0M370.1 298.3h0M383.8 298.0h0M448.7 285.9h0M423.6 293.5h0M429.3 287.1h0M413.2 290.1h0M426.9 290.5h0M405.3 293.1h0M415.4 291.1h0M390.5 295.6h0M379.5 244.8h0M472.8 284.6h0M418.6 293.2h0M372.4 296.2h0M399.2 296.5h0M403.8 295.3h0M370.7 301.1h0M368.3 296.4h0M437.7 288.6h0M448.3 288.2h0M495.9 294.0h0M521.0 286.8h0M387.5 296.1h0M507.5 284.7h0M394.1 292.6h0M418.4 294.4h0M426.8 288.9h0M452.1 287.7h0M460.5 291.2h0M384.5 297.4h0M487.9 282.4h0M497.9 279.4h0M439.4 290.8h0M399.1 296.6h0M408.0 295.4h0M430.3 291.9h0M395.7 290.0h0M361.4 300.9h0M411.6 292.1h0M401.1 297.5h0M393.6 296.2h0M457.0 282.9h0M492.9 281.0h0M474.5 278.7h0M446.0 285.7h0M447.2 283.6h0M499.5 289.1h0M406.1 220.9h0M415.7 287.2h0M384.8 292.4h0M404.1 299.1h0M374.7 272.0h0M376.3 297.7h0M401.8 292.9h0M399.1 296.6h0M459.2 281.6h0M376.3 299.4h0M390.6 294.0h0M364.4 302.1h0M429.7 293.5h0M401.6 293.1h0M426.1 245.6h0M361.9 237.0h0M369.1 227.3h0M407.0 286.8h0M448.7 281.1h0M440.3 288.6h0M388.9 297.6h0M428.8 287.5h0M421.6 292.8h0M446.7 286.4h0M422.3 296.0h0M425.6 294.3h0M371.0 286.5h0M440.1 286.3h0M378.8 297.8h0M422.6 285.2h0M394.5 293.7h0M446.3 287.8h0M394.4 293.4h0M446.4 286.3h0M393.5 298.1h0M360.6 242.6h0M438.6 284.8h0M415.9 293.3h0M377.3 259.8h0M369.4 298.7h0M386.4 299.9h0M383.2 293.2h0M418.8 288.5h0M368.2 294.3h0M377.8 299.6h0M378.0 294.6h0M388.8 297.6h0M368.4 266.1h0M399.7 303.0h0M473.9 286.3h0M391.7 292.2h0M492.8 281.0h0M382.7 185.7h0M411.7 264.9h0M420.4 291.5h0M422.9 293.3h0M423.0 294.1h0M367.3 299.7h0M410.8 291.2h0M381.6 215.5h0M381.8 212.2h0M472.9 283.3h0M368.2 297.5h0M434.6 290.6h0M459.6 289.8h0M392.3 296.7h0M374.8 232.6h0M421.7 298.8h0M482.5 283.8h0M369.3 301.7h0M437.3 283.0h0M394.1 191.7h0M413.3 293.5h0M380.5 296.0h0M378.1 295.4h0M381.6 299.4h0M442.2 289.2h0M413.1 290.4h0M374.1 279.7h0M434.4 292.1h0M413.8 291.6h0M396.4 265.4h0M497.1 280.8h0M396.1 258.4h0M408.8 296.3h0M465.1 281.8h0M417.2 287.4h0M388.7 298.3h0M393.4 297.7h0M429.0 290.7h0M393.7 228.4h0M354.1 300.2h0M387.9 296.1h0M388.2 296.7h0M447.9 287.0h0M444.6 284.6h0M433.0 284.7h0M461.2 285.0h0M427.6 288.6h0M390.5 295.7h0M454.2 286.1h0M477.7 286.1h0M413.4 293.5h0M430.5 289.7h0M423.2 291.7h0M431.3 290.9h0M430.0 291.9h0M406.3 294.3h0M407.9 287.9h0M426.2 295.1h0M426.4 288.9h0M407.3 294.3h0M426.8 290.1h0M533.2 284.2h0M431.0 288.5h0M424.7 286.9h0M431.7 291.9h0M433.3 290.8h0M484.4 278.2h0M417.6 285.4h0M372.6 300.6h0M428.3 289.9h0M493.5 288.7h0M377.4 296.0h0M401.8 282.2h0M453.7 287.5h0M391.8 280.7h0M454.9 289.1h0M439.6 291.4h0M407.4 286.5h0M420.3 292.2h0M395.4 267.9h0M372.1 297.9h0M435.8 291.0h0M470.4 291.0h0M514.7 280.2h0M374.3 299.2h0M431.1 289.0h0M402.3 295.6h0M415.2 298.7h0M478.7 284.8h0M427.5 289.6h0M391.5 296.4h0M428.5 290.5h0M452.3 288.1h0M458.5 288.9h0M420.4 292.9h0M395.6 292.5h0M358.5 266.7h0M393.2 294.0h0M484.4 285.4h0M430.0 290.1h0M364.2 294.3h0M386.1 220.9h0M414.5 294.0h0M393.0 264.4h0M400.3 288.3h0M432.3 289.7h0M394.6 297.3h0M467.8 289.6h0M380.8 245.1h0M379.8 296.1h0M393.0 281.1h0M433.2 285.8h0M464.5 288.2h0M376.6 295.6h0M432.9 292.5h0M400.2 294.1h0M374.1 298.7h0M358.7 237.2h0M374.4 297.2h0M413.1 293.2h0M397.4 294.3h0M421.5 287.6h0M425.2 290.9h0M403.8 289.4h0M411.1 290.1h0M381.0 284.2h0M387.3 213.8h0M404.2 294.1h0M435.7 290.4h0M357.3 302.9h0M387.7 209.4h0M438.7 298.1h0M388.5 296.2h0M365.2 299.9h0M378.1 247.2h0M373.4 156.3h0M371.7 295.5h0M444.7 290.7h0M396.9 292.2h0M407.0 291.0h0M398.9 293.4h0M375.0 299.0h0M456.4 292.0h0M389.7 296.1h0M389.2 294.4h0M441.2 281.9h0"/>
<path stroke="rgb(234,234,234)" stroke-opacity="0.7" stroke-width="2.11" d="M436.5 287.9h0M387.1 298.2h0M377.4 184.7h0M431.1 294.5h0M438.9 287.7h0M398.9 296.8h0M417.3 294.9h0M397.9 292.3h0M369.6 283.4h0M371.0 299.8h0M399.7 293.6h0M396.0 235.2h0M376.9 299.5h0M399.1 288.5h0M428.1 286.2h0M378.4 299.4h0M406.0 293.4h0M443.9 291.0h0M409.2 297.0h0M509.3 280.3h0M441.7 285.8h0M383.0 298.0h0M392.6 299.3h0M408.9 293.9h0M543.3 281.5h0M450.5 287.6h0M399.0 296.8h0M426.5 287.0h0M381.4 297.0h0M389.6 296.1h0M395.7 295.3h0M393.7 299.4h0M490.4 279.5h0M406.3 294.6h0M420.0 293.6h0M466.0 296.6h0M401.1 300.0h0M409.9 288.6h0M440.1 288.3h0M433.7 294.1h0M403.2 290.8h0M499.9 278.7h0M436.3 293.1h0M408.6 300.4h0M480.3 281.4h0M422.8 292.3h0M392.3 297.3h0M422.8 291.1h0M387.6 294.9h0M430.9 290.9h0M381.3 295.9h0M387.6 256.8h0M412.4 289.9h0M384.8 295.5h0M360.2 302.0h0M394.9 293.9h0M412.7 242.5h0M440.5 285.6h0M383.1 299.6h0M374.9 295.8h0M465.4 278.9h0M425.2 286.8h0M391.7 300.3h0M368.0 299.0h0M409.9 290.1h0M376.2 253.0h0M375.7 298.1h0M453.7 287.3h0M426.6 290.0h0M484.3 289.8h0M361.0 213.8h0M387.6 295.8h0M425.8 296.8h0M418.0 289.7h0M394.8 278.2h0M427.2 286.3h0M380.3 298.5h0M398.9 285.4h0M458.7 290.4h0M384.0 202.5h0M443.1 290.7h0M377.9 294.0h0M484.0 287.2h0M428.4 289.3h0M465.9 290.1h0M407.3 292.2h0M470.0 280.1h0M415.5 291.2h0M476.0 286.2h0M394.0 294.1h0M401.1 295.4h0M424.2 299.2h0M399.4 291.9h0M418.5 297.6h0M441.7 287.7h0M464.0 287.5h0M377.4 297.2h0M391.2 294.3h0M506.0 275.7h0M398.5 290.0h0M433.2 284.6h0M418.8 290.2h0M469.0 290.3h0M373.6 300.2h0M441.2 289.3h0M411.0 294.2h0M426.8 287.9h0M352.2 267.2h0M381.3 300.7h0M437.6 289.1h0M390.0 237.5h0M385.6 296.1h0M382.4 295.1h0M443.6 288.6h0M433.1 290.1h0M436.8 293.9h0M525.7 278.9h0M381.6 294.2h0M410.4 210.4h0M364.2 299.2h0M401.8 289.5h0M394.3 297.4h0M398.4 288.5h0M440.7 286.8h0M357.5 299.0h0M416.5 293.6h0M387.7 290.9h0M503.6 283.2h0M388.0 299.5h0M438.1 286.1h0M390.9 298.2h0M413.2 288.4h0M368.7 301.3h0M373.8 203.6h0M399.1 298.2h0M417.1 293.2h0M476.1 281.9h0M408.9 291.8h0M404.5 290.2h0M402.5 294.3h0M373.1 231.9h0M447.0 294.4h0M393.4 295.5h0M411.1 271.8h0M481.2 281.6h0M442.6 290.7h0M387.0 286.6h0M381.7 299.5h0M408.2 294.3h0M376.7 259.4h0M460.5 278.3h0M358.2 217.4h0M391.8 296.8h0M363.8 265.6h0M458.1 278.8h0M485.2 288.4h0M424.1 288.6h0M363.9 269.2h0M445.6 283.7h0M390.1 292.9h0M492.8 282.6h0M551.2 296.0h0M384.9 275.7h0M442.9 289.9h0M386.5 281.2h0M404.8 301.3h0M371.5 300.6h0M470.2 287.1h0M436.8 293.9h0M408.8 290.3h0M457.1 281.2h0M387.4 261.6h0M381.3 300.0h0M377.4 296.5h0M407.3 292.3h0M541.5 282.0h0M390.8 281.3h0M381.4 298.3h0M400.1 296.8h0M433.2 283.5h0M436.7 285.4h0M374.4 300.9h0M496.0 292.4h0M429.9 289.7h0M423.4 298.8h0M387.9 294.3h0M463.0 287.9h0M401.5 299.2h0M445.7 288.3h0M394.5 294.4h0M427.3 283.2h0M400.0 298.5h0M416.5 289.0h0M390.4 299.3h0M417.4 296.2h0M447.2 286.5h0M404.7 282.6h0M483.5 280.6h0M444.5 292.7h0M411.1 289.0h0M410.8 270.6h0M410.8 291.5h0M443.2 284.8h0M427.7 291.6h0M381.4 300.5h0M483.8 284.3h0M389.7 294.4h0M421.6 289.7h0M544.6 287.5h0M389.5 298.7h0M415.5 291.5h0M364.9 298.9h0M423.6 219.6h0M397.4 299.9h0M376.6 254.0h0M366.1 301.0h0M422.4 290.5h0M387.0 299.7h0M466.4 290.3h0M411.9 294.6h0M403.9 296.9h0M382.2 298.6h0M424.8 288.6h0M422.3 291.1h0M474.3 293.7h0M444.2 280.5h0M444.6 287.1h0M445.2 294.1h0M382.0 299.2h0M378.3 298.6h0M434.1 288.8h0M495.6 282.5h0M379.8 281.4h0M406.2 295.2h0M458.2 286.9h0M473.5 285.9h0M361.7 194.6h0M445.5 285.8h0M462.8 284.8h0M377.6 296.9h0M366.3 296.0h0M418.7 293.5h0M374.6 217.6h0M459.2 289.1h0M457.9 288.1h0M452.3 282.6h0M355.7 299.1h0M396.7 249.8h0M368.4 300.0h0M405.5 296.3h0M487.4 286.1h0M408.3 296.2h0M431.3 285.6h0M409.3 291.6h0M439.8 283.3h0M405.1 297.3h0M396.1 175.5h0M495.7 287.0h0M502.7 291.6h0M499.8 279.1h0M394.3 283.1h0M394.7 298.0h0M412.5 288.0h0M403.2 292.7h0M497.8 286.4h0M395.2 295.4h0M373.4 299.7h0M397.7 296.1h0M383.6 299.8h0M392.9 257.4h0M420.8 292.3h0M383.9 219.6h0M410.8 294.7h0M392.3 298.5h0M360.3 299.7h0M450.4 287.6h0M386.8 302.0h0M368.2 298.7h0M363.4 299.6h0M386.0 295.1h0M375.3 297.0h0M492.1 283.1h0M475.3 289.8h0M432.2 287.0h0M463.9 280.7h0M396.4 280.9h0M400.3 291.0h0M442.2 288.3h0M417.7 292.9h0M402.3 294.8h0M440.5 283.7h0M386.4 298.5h0M470.3 281.3h0M464.4 283.2h0M422.4 290.0h0M407.9 292.7h0M486.0 284.9h0M378.3 297.4h0M442.0 285.4h0M389.4 297.8h0M378.4 264.8h0M399.5 250.3h0M385.0 274.0h0M393.4 296.7h0M452.3 282.9h0M394.8 279.5h0M396.9 295.8h0M396.9 292.5h0M453.7 294.6h0M391.5 141.5h0M393.3 293.8h0M386.1 293.9h0M385.7 280.1h0M365.2 298.3h0M423.0 291.0h0M389.0 297.1h0M373.8 288.7h0M436.7 289.0h0M443.0 289.1h0M403.6 299.4h0M410.2 297.9h0M412.9 292.6h0M445.7 289.8h0M416.2 291.0h0M453.2 283.1h0M424.0 267.0h0M428.7 289.3h0M382.5 295.8h0M382.9 282.6h0M413.9 296.6h0M433.6 292.8h0M395.4 293.6h0M374.6 298.7h0M357.5 274.5h0M434.0 288.7h0M480.5 283.3h0M436.3 292.2h0M413.8 294.1h0M453.8 286.6h0M380.6 299.8h0M426.2 291.7h0M382.7 270.8h0M393.8 297.5h0M462.8 283.4h0M414.2 289.6h0M434.8 292.9h0M364.6 206.5h0M405.7 293.0h0M480.8 283.8h0M411.2 293.9h0M438.9 286.8h0M471.0 286.9h0M415.6 295.9h0M392.0 296.6h0M400.0 293.5h0M380.6 298.3h0M427.1 290.1h0M403.4 296.5h0M421.4 293.5h0M396.6 297.7h0M403.8 295.0h0M388.3 212.7h0M388.6 298.2h0M467.7 286.6h0M380.3 294.5h0M394.2 293.3h0M393.7 296.9h0M444.5 286.8h0M379.9 261.6h0M352.6 300.5h0M521.6 280.6h0M414.1 290.7h0M381.4 293.4h0M405.5 298.1h0M392.1 291.2h0M394.6 269.0h0M412.4 294.7h0M408.7 277.0h0M375.9 296.4h0M367.6 276.2h0M380.8 256.3h0M362.2 303.5h0M417.4 294.2h0M398.7 294.3h0M366.3 301.4h0M402.7 301.3h0M420.8 246.7h0M379.2 295.6h0M410.3 291.9h0M422.1 287.4h0M400.1 295.0h0M388.0 257.2h0M406.9 291.2h0M397.4 290.9h0M403.7 297.7h0M388.4 297.4h0M413.8 296.0h0M402.1 295.5h0M429.7 236.6h0M425.2 294.7h0M427.6 288.4h0M406.1 287.7h0M409.0 281.9h0M460.7 286.4h0M379.1 288.1h0M406.5 293.3h0M453.6 286.4h0M411.8 288.7h0M354.4 267.7h0M408.8 293.2h0M383.8 300.7h0M392.8 272.1h0M395.2 266.0h0M426.2 285.5h0M411.4 291.9h0M402.1 299.5h0M390.5 227.3h0M399.3 295.6h0M416.4 293.1h0M441.1 290.1h0M456.6 283.1h0M427.9 289.6h0M456.4 288.3h0M363.7 188.5h0M493.2 283.6h0M392.2 295.5h0M415.1 292.4h0M407.0 281.0h0M463.9 289.6h0M404.3 293.4h0M433.6 284.9h0M393.2 279.9h0M406.3 290.5h0M429.0 287.1h0M391.2 259.8h0M454.6 293.1h0M382.7 295.4h0M442.5 287.4h0M446.0 287.8h0M456.2 286.9h0M388.0 287.7h0M406.1 294.2h0M428.8 289.5h0M427.1 299.1h0M409.5 292.7h0M391.8 251.7h0M520.6 282.7h0M370.4 190.5h0M400.3 294.2h0M357.9 292.9h0M400.4 250.6h0M380.3 290.9h0M399.0 294.7h0M435.5 285.5h0M383.0 268.1h0M433.5 285.8h0M380.9 222.6h0M419.1 289.1h0M394.1 299.4h0M353.6 226.4h0M416.9 294.4h0M401.1 290.9h0M415.5 296.1h0M379.4 295.6h0M429.3 288.8h0M418.4 296.4h0M372.8 297.4h0M404.0 291.2h0M390.0 292.0h0M423.7 288.9h0M422.5 291.1h0M401.8 290.7h0M513.3 294.8h0M415.4 294.0h0M429.6 289.7h0M414.3 289.7h0M378.7 295.4h0M407.6 296.0h0M388.6 294.8h0M421.0 292.2h0M404.9 293.4h0M446.6 284.1h0M482.1 283.1h0M400.8 292.0h0M448.1 292.0h0M387.1 295.3h0M399.4 294.8h0M410.4 295.6h0M369.1 293.6h0M380.8 302.2h0M527.7 286.5h0M380.7 231.3h0M467.2 289.4h0M431.4 289.1h0M420.7 284.0h0M420.6 291.4h0M447.4 288.0h0M444.5 284.7h0M354.8 295.4h0M423.1 291.4h0M482.5 286.1h0M412.3 290.8h0M367.7 301.9h0M396.5 293.0h0M451.7 290.4h0M420.7 289.7h0M385.0 299.9h0M412.8 285.4h0M424.1 288.8h0M425.3 287.7h0M393.4 293.1h0M399.1 298.0h0M382.9 283.2h0M552.3 287.9h0M421.4 291.3h0M399.4 295.3h0M423.2 293.1h0M501.7 283.9h0M435.2 293.0h0M405.5 295.2h0M407.5 291.7h0M379.4 270.0h0M421.9 295.0h0M500.0 288.5h0M377.3 291.0h0M469.5 289.5h0M423.9 260.9h0M454.4 284.5h0M379.5 294.5h0M399.9 292.9h0M433.8 293.2h0M396.5 282.0h0M443.7 295.8h0M419.4 288.2h0M374.1 261.7h0M384.2 299.4h0M459.6 289.7h0M428.2 294.4h0M452.4 282.4h0M418.2 289.0h0M444.3 283.9h0M456.5 285.7h0M410.6 292.7h0M397.7 280.7h0M383.8 248.6h0M399.9 292.2h0M395.6 293.4h0M399.5 297.6h0M446.3 280.9h0M465.4 287.9h0M367.0 299.7h0M395.9 297.0h0"/>
<path stroke="rgb(223,223,223)" stroke-opacity="0.7" stroke-width="2.19" d="M379.0 269.0h0M410.3 293.6h0M474.9 284.2h0M399.1 271.8h0M405.3 293.2h0M406.5 294.6h0M411.1 291.0h0M409.5 297.6h0M382.9 295.7h0M507.1 289.0h0M404.2 293.7h0M431.0 283.0h0M412.2 294.0h0M381.2 254.8h0M521.9 280.9h0M396.1 295.2h0M387.8 294.9h0M350.6 244.4h0M466.0 283.3h0M364.1 298.7h0M427.3 293.3h0M440.7 289.3h0M384.5 297.6h0M405.3 291.8h0M366.6 302.3h0M402.3 297.7h0M367.1 230.2h0M430.5 274.3h0M430.8 289.0h0M440.1 291.0h0M385.6 294.7h0M457.3 287.9h0M370.3 299.2h0M442.6 288.1h0M397.6 290.5h0M428.1 288.3h0M443.7 293.5h0M350.0 301.3h0M422.3 293.3h0M424.2 289.8h0M397.1 184.4h0M463.3 285.7h0M381.4 266.9h0M366.9 304.8h0M445.3 289.5h0M511.8 280.5h0M387.3 268.5h0M434.9 295.6h0M425.6 294.6h0M439.5 290.8h0M441.4 288.4h0M383.4 198.5h0M404.8 295.9h0M462.3 281.8h0M404.2 295.6h0M435.8 291.8h0M367.1 288.1h0M395.6 216.2h0M419.9 287.8h0M435.9 289.7h0M438.3 288.1h0M423.9 291.0h0M410.1 268.7h0M422.8 289.5h0M392.3 298.1h0M434.2 292.3h0M468.4 280.4h0M461.6 287.4h0M426.3 284.8h0M446.2 288.8h0M416.7 297.9h0M402.9 251.7h0M380.8 301.1h0M373.5 298.6h0M422.6 292.7h0M508.0 276.4h0M445.9 291.3h0M391.5 232.9h0M397.3 296.1h0M357.5 135.6h0M389.9 207.3h0M413.6 298.7h0M449.0 280.7h0M436.9 290.5h0M434.4 288.0h0M375.5 270.4h0M381.6 215.5h0M418.3 287.4h0M377.1 300.3h0M390.3 291.2h0M376.7 300.5h0M434.5 291.1h0M486.2 285.4h0M385.8 297.8h0M412.9 291.5h0M408.3 297.3h0M468.9 290.8h0M430.9 296.6h0M380.4 275.2h0M404.6 290.0h0M380.5 288.9h0M385.3 295.6h0M358.3 297.9h0M379.4 299.9h0M400.1 291.4h0M364.7 302.8h0M454.9 283.5h0M359.7 299.4h0M377.5 297.7h0M443.2 291.4h0M395.1 297.9h0M459.8 285.5h0M402.9 296.8h0M395.7 286.6h0M397.0 293.5h0M404.8 292.6h0M427.8 291.5h0M430.7 287.1h0M445.9 288.4h0M379.2 295.5h0M408.1 296.7h0M476.5 283.8h0M424.1 288.2h0M389.1 299.7h0M369.1 252.3h0M359.5 225.7h0M382.6 297.2h0M455.4 280.7h0M390.7 298.1h0M447.1 283.8h0M399.7 291.1h0M462.6 288.5h0M387.1 297.3h0M416.3 290.5h0M370.6 253.7h0M433.7 290.4h0M393.5 296.4h0M414.7 298.2h0M497.3 284.2h0M368.9 280.0h0M359.5 297.4h0M500.3 284.3h0M378.7 296.9h0M386.4 288.4h0M472.6 285.6h0M473.2 285.0h0M377.6 253.6h0M410.2 288.7h0M394.3 276.9h0M403.4 176.9h0M467.5 278.3h0M385.0 293.7h0M388.3 285.7h0M420.2 288.8h0M421.6 287.5h0M413.3 290.3h0M382.4 298.5h0M385.7 241.0h0M381.4 242.2h0M413.3 290.7h0M363.5 278.6h0M457.3 286.8h0M429.4 294.0h0M394.4 290.1h0M388.0 300.5h0M375.5 196.6h0M405.4 302.2h0M461.4 286.0h0M391.5 284.9h0M475.0 285.3h0M388.9 292.9h0M453.6 285.2h0M357.6 295.2h0M377.2 276.8h0M391.6 275.1h0M404.1 295.2h0M376.6 206.7h0M506.8 286.0h0M393.8 293.0h0M419.7 277.2h0M390.3 292.1h0M385.0 247.3h0M413.9 293.4h0M433.4 289.6h0M414.3 289.5h0M398.0 298.1h0M362.5 299.1h0M358.0 291.9h0M375.2 273.5h0M431.4 288.8h0M377.6 240.9h0M402.5 273.6h0M397.0 282.2h0M386.8 287.9h0M393.3 291.6h0M393.5 292.7h0M386.8 295.1h0M435.7 284.9h0M377.3 198.0h0M375.0 297.3h0M450.6 283.5h0M398.1 295.9h0M446.8 289.7h0M371.1 228.6h0M419.5 293.3h0M389.1 277.7h0M410.3 196.2h0M389.2 238.0h0M373.0 232.2h0M372.9 297.6h0M389.5 283.7h0M387.6 280.1h0M397.9 291.7h0M543.8 289.1h0M378.1 296.7h0M418.5 289.5h0M384.7 291.5h0M384.0 136.3h0M356.6 289.4h0M462.5 286.3h0M441.0 254.2h0M381.1 280.9h0M387.4 286.4h0M386.6 294.6h0M412.5 286.5h0M410.9 283.1h0M519.2 280.5h0M362.5 297.6h0M436.3 288.9h0M400.6 291.7h0M385.8 293.2h0M434.8 242.6h0M417.4 295.3h0M449.1 286.6h0M445.2 280.2h0M441.5 290.1h0M370.2 299.1h0M435.1 289.9h0M357.9 305.4h0M437.5 287.1h0M394.1 300.7h0M390.8 297.3h0M403.2 297.2h0M465.0 291.0h0M401.4 295.4h0M368.9 280.0h0M429.3 288.0h0M481.2 286.7h0M384.4 269.4h0M367.7 283.7h0M362.6 298.0h0M435.5 288.4h0M398.0 273.8h0M421.3 289.1h0M434.5 289.3h0M436.3 287.7h0M383.4 288.5h0M435.1 287.6h0M384.1 298.0h0M371.3 297.7h0M429.7 286.6h0M363.6 302.3h0M412.9 286.7h0M506.8 285.9h0M407.7 295.2h0M481.0 282.6h0M382.5 295.9h0M381.4 292.2h0M383.5 264.7h0M479.7 286.6h0M412.7 289.2h0M448.0 294.1h0M363.9 209.0h0M429.1 242.8h0M416.4 289.1h0M441.2 269.3h0M397.4 297.8h0M408.6 290.3h0M413.2 285.0h0M400.4 247.1h0M478.3 281.8h0M399.3 290.5h0M385.7 294.9h0M375.2 299.3h0M444.4 287.8h0M382.9 294.7h0M470.9 287.6h0M439.7 276.3h0M439.9 283.7h0M383.4 293.2h0M391.9 289.6h0M462.2 285.8h0M427.9 294.3h0M392.3 296.4h0M455.8 276.9h0M457.1 281.6h0M388.2 295.7h0M392.4 294.7h0M438.0 287.8h0M370.5 188.8h0M395.3 296.9h0M448.4 289.1h0M463.7 287.7h0M382.1 240.2h0M414.5 289.6h0M395.8 296.1h0M389.7 299.1h0M375.1 290.4h0M384.3 276.6h0M354.1 290.6h0M377.0 243.7h0M435.0 287.6h0M379.9 280.3h0M396.0 290.7h0M365.5 222.5h0M431.6 296.1h0M373.8 250.4h0M403.4 226.2h0M370.5 251.1h0M366.4 215.7h0M393.0 107.3h0M388.6 181.3h0M390.5 264.4h0M421.3 291.5h0M402.5 239.1h0M421.8 291.6h0M365.7 229.7h0M396.1 287.7h0M416.8 290.4h0M398.2 261.4h0M404.6 296.1h0M474.6 294.8h0M393.8 291.2h0M393.9 236.0h0M418.2 291.9h0M373.3 223.9h0M371.2 242.1h0M395.5 292.8h0M390.4 276.7h0M425.2 290.5h0M409.1 251.0h0M395.2 272.5h0M371.0 296.6h0M380.9 296.4h0M382.3 272.8h0M385.1 290.3h0M428.2 286.9h0"/>
<path stroke="rgb(210,210,210)" stroke-opacity="0.7" stroke-width="2.28" d="M543.2 281.2h0M390.5 133.0h0M384.8 254.9h0M374.7 297.9h0M508.1 280.9h0M393.2 281.8h0M420.4 293.3h0M364.0 301.1h0M387.3 287.3h0M386.1 297.6h0M507.7 292.0h0M450.4 288.6h0M360.2 299.7h0M474.0 287.9h0M386.7 247.2h0M371.4 271.3h0M463.2 280.1h0M414.8 290.4h0M368.4 278.5h0M433.2 288.1h0M389.8 297.7h0M455.0 280.6h0M377.6 295.4h0M376.9 298.3h0M418.1 272.0h0M417.5 284.9h0M404.4 295.5h0M370.1 172.5h0M431.9 292.7h0M416.7 290.8h0M379.9 257.9h0M421.8 290.6h0M395.8 294.8h0M410.9 295.0h0M364.5 272.2h0M358.7 152.2h0M370.5 263.0h0M458.7 288.5h0M428.8 270.9h0M457.8 285.6h0M360.6 273.1h0M370.7 292.5h0M380.1 298.1h0M367.6 250.6h0M398.1 296.3h0M385.5 236.0h0M353.9 161.5h0M383.4 293.4h0M372.9 295.9h0M373.8 285.2h0M372.2 247.6h0M376.1 276.2h0M393.7 279.5h0M367.2 282.9h0M443.6 293.4h0M418.3 286.9h0M359.3 302.9h0M377.3 298.3h0M446.0 284.2h0M385.2 179.5h0M480.0 284.7h0M384.2 215.5h0M357.8 286.4h0M418.9 289.9h0M489.2 288.4h0M459.0 282.0h0M413.6 293.0h0M384.1 294.8h0M388.7 250.5h0M375.0 278.2h0M368.0 225.7h0M412.3 292.6h0M477.6 284.4h0M431.4 290.6h0M369.6 293.1h0M371.6 257.2h0M396.9 294.7h0M411.0 295.3h0M407.7 298.2h0M437.3 288.4h0M378.3 238.0h0M375.4 294.0h0M412.0 294.7h0M392.5 251.4h0M367.3 288.2h0M475.8 284.6h0M428.6 288.1h0M431.9 262.2h0M420.1 294.6h0M385.3 176.7h0M411.1 287.5h0M399.0 288.0h0M449.8 291.8h0M426.8 254.5h0M375.4 264.7h0M386.0 249.8h0M394.2 299.2h0M361.9 295.3h0M454.2 291.0h0M379.6 298.4h0M449.2 283.1h0M372.9 268.3h0M382.5 241.9h0M431.9 290.7h0M490.4 282.9h0M386.0 236.3h0M387.2 295.3h0M410.3 257.8h0M359.3 269.1h0M370.5 189.5h0M413.8 291.0h0M380.3 151.6h0M442.3 282.7h0M421.5 298.4h0M384.0 264.0h0M359.7 297.3h0M407.0 209.2h0M382.6 250.9h0M357.6 251.9h0M410.5 294.2h0M374.0 272.4h0M406.9 290.4h0M414.5 292.6h0M374.4 238.2h0M380.3 197.4h0M431.2 290.9h0M369.6 250.1h0M406.8 288.2h0M400.2 291.4h0M381.9 251.2h0M405.1 293.3h0M377.2 284.2h0M384.5 271.6h0M466.3 290.5h0M390.1 282.0h0M371.3 266.1h0M426.9 258.7h0M524.6 282.8h0M400.8 299.4h0M383.0 293.0h0M379.5 276.3h0M479.4 277.6h0M389.2 246.1h0M406.4 272.2h0M422.6 288.9h0M376.9 216.6h0M450.3 290.4h0M432.4 266.0h0M448.6 268.8h0M432.7 224.2h0M388.4 201.4h0M388.4 239.4h0M412.2 285.9h0M365.6 206.1h0M441.9 285.4h0M414.0 297.4h0M362.2 301.3h0M349.4 299.9h0M481.2 285.7h0M430.8 227.7h0M475.6 282.9h0M441.8 290.9h0"/>
<path stroke="rgb(196,196,196)" stroke-width="2.36" d="M386.6 297.7h0M371.7 212.9h0M398.4 298.9h0M400.3 292.4h0M438.9 293.3h0M401.1 294.5h0M403.2 290.9h0M418.6 285.6h0M364.6 302.3h0M401.5 292.1h0M416.4 293.8h0M421.9 290.4h0M427.2 293.6h0M355.4 212.7h0M431.9 271.7h0M416.2 291.2h0M435.3 210.3h0M394.0 288.0h0M414.0 290.6h0M438.8 289.3h0M397.3 293.2h0M415.6 289.7h0M385.6 301.8h0M382.9 303.2h0M477.5 283.1h0M392.1 295.5h0M390.5 255.4h0M397.2 252.2h0M388.4 168.0h0M358.7 300.9h0M416.9 294.8h0M424.7 292.7h0M398.2 297.3h0M432.6 285.2h0M396.4 297.7h0M369.9 299.2h0M460.0 292.7h0M374.2 301.3h0"/>
<path stroke="rgb(179,179,179)" stroke-width="2.44" d="M372.3 297.4h0M407.4 293.0h0M390.8 294.8h0M475.4 277.2h0M410.6 218.9h0M436.2 268.8h0M437.6 287.4h0M406.3 292.4h0M394.2 299.4h0M393.9 292.5h0M431.1 281.8h0M413.6 291.4h0M470.8 280.3h0M423.6 284.9h0M423.5 286.4h0"/>
<path stroke="rgb(160,160,160)" stroke-width="2.53" d="M448.6 273.6h0M445.9 286.2h0M440.9 290.7h0M473.4 276.6h0M431.2 288.1h0"/>
<path stroke="rgb(141,141,141)" stroke-width="2.61" d="M416.1 288.6h0M462.4 278.9h0M441.3 287.8h0M403.8 275.5h0M406.0 288.7h0"/>
<path stroke="rgb(124,124,124)" stroke-width="2.69" d="M456.8 282.7h0M396.9 292.5h0M409.4 291.5h0M467.7 264.1h0M449.6 281.2h0M457.2 282.2h0M405.2 291.0h0M407.8 292.3h0"/>
<path stroke="rgb(107,107,107)" stroke-width="2.7" d="M415.8 290.8h0M403.0 291.5h0M443.4 284.6h0M465.3 276.1h0M408.1 284.0h0"/>
<path stroke="rgb(90,90,90)" stroke-width="2.7" d="M456.3 279.0h0M442.0 281.2h0M477.2 267.9h0M477.2 281.2h0M427.7 290.4h0M417.2 284.1h0"/>
<path stroke="rgb(71,71,71)" stroke-width="2.7" d="M422.9 291.7h0M468.3 268.4h0M411.5 288.8h0M437.2 285.6h0M425.8 290.7h0"/>
<path stroke="rgb(48,48,48)" stroke-width="2.7" d="M420.4 273.6h0M446.7 287.3h0"/>
<path stroke="rgb(28,28,28)" stroke-width="2.7" d="M406.3 278.4h0M476.9 277.4h0M394.3 289.2h0M443.9 280.3h0M434.3 276.5h0M408.6 288.5h0M453.4 280.6h0"/>
<path stroke="rgb(9,9,9)" stroke-width="2.7" d="M462.9 280.3h0M405.7 287.3h0M421.0 286.9h0M465.8 272.6h0"/>
</g>
<path d="M58.30 304.80L298.60 45.00" stroke="#417ebc" stroke-width="1.6" stroke-dasharray="5.9 2.6" fill="none"/>
<path d="M58.30 304.80L298.60 131.90" stroke="#dea32c" stroke-width="1.6" stroke-dasharray="5.9 2.6" fill="none"/>
<path d="M58.30 304.80L298.60 218.54" stroke="#3db67c" stroke-width="1.6" stroke-dasharray="5.9 2.6" fill="none"/>
<path d="M338.20 304.80L579.50 253.30" stroke="#d4571f" stroke-width="1.6" stroke-dasharray="5.9 2.6" fill="none"/>
<rect x="46.7" y="31.7" width="264.1" height="286.3" fill="none" stroke="#222" stroke-width="1"/>
<rect x="326.2" y="31.7" width="265.2" height="286.3" fill="none" stroke="#222" stroke-width="1"/>
<path d="M58.30 318.0v3.8M98.45 318.0v3.8M138.60 318.0v3.8M178.75 318.0v3.8M218.90 318.0v3.8M259.05 318.0v3.8M299.20 318.0v3.8M338.20 318.0v3.8M378.40 318.0v3.8M418.60 318.0v3.8M458.80 318.0v3.8M499.00 318.0v3.8M539.20 318.0v3.8M579.40 318.0v3.8M46.7 304.80h-3.8M326.2 304.80h-3.8M46.7 266.80h-3.8M326.2 266.80h-3.8M46.7 228.80h-3.8M326.2 228.80h-3.8M46.7 190.80h-3.8M326.2 190.80h-3.8M46.7 152.80h-3.8M326.2 152.80h-3.8M46.7 114.80h-3.8M326.2 114.80h-3.8M46.7 76.80h-3.8M326.2 76.80h-3.8M46.7 38.80h-3.8M326.2 38.80h-3.8" stroke="#222" stroke-width="0.9" fill="none"/>
<text x="58.3" y="334.0" font-size="10.4" text-anchor="middle" textLength="6.6" lengthAdjust="spacingAndGlyphs">0</text>
<text x="98.4" y="334.0" font-size="10.4" text-anchor="middle" textLength="6.6" lengthAdjust="spacingAndGlyphs">5</text>
<text x="138.6" y="334.0" font-size="10.4" text-anchor="middle" textLength="13.2" lengthAdjust="spacingAndGlyphs">10</text>
<text x="178.8" y="334.0" font-size="10.4" text-anchor="middle" textLength="13.2" lengthAdjust="spacingAndGlyphs">15</text>
<text x="218.9" y="334.0" font-size="10.4" text-anchor="middle" textLength="13.2" lengthAdjust="spacingAndGlyphs">20</text>
<text x="259.0" y="334.0" font-size="10.4" text-anchor="middle" textLength="13.2" lengthAdjust="spacingAndGlyphs">25</text>
<text x="299.2" y="334.0" font-size="10.4" text-anchor="middle" textLength="13.2" lengthAdjust="spacingAndGlyphs">30</text>
<text x="338.2" y="334.0" font-size="10.4" text-anchor="middle" textLength="6.6" lengthAdjust="spacingAndGlyphs">0</text>
<text x="378.4" y="334.0" font-size="10.4" text-anchor="middle" textLength="6.6" lengthAdjust="spacingAndGlyphs">1</text>
<text x="418.6" y="334.0" font-size="10.4" text-anchor="middle" textLength="6.6" lengthAdjust="spacingAndGlyphs">2</text>
<text x="458.8" y="334.0" font-size="10.4" text-anchor="middle" textLength="6.6" lengthAdjust="spacingAndGlyphs">3</text>
<text x="499.0" y="334.0" font-size="10.4" text-anchor="middle" textLength="6.6" lengthAdjust="spacingAndGlyphs">4</text>
<text x="539.2" y="334.0" font-size="10.4" text-anchor="middle" textLength="6.6" lengthAdjust="spacingAndGlyphs">5</text>
<text x="579.4" y="334.0" font-size="10.4" text-anchor="middle" textLength="6.6" lengthAdjust="spacingAndGlyphs">6</text>
<text x="38.2" y="308.6" font-size="10.4" text-anchor="end" textLength="6.6" lengthAdjust="spacingAndGlyphs">0</text>
<text x="38.2" y="270.6" font-size="10.4" text-anchor="end" textLength="6.6" lengthAdjust="spacingAndGlyphs">5</text>
<text x="38.2" y="232.6" font-size="10.4" text-anchor="end" textLength="13.2" lengthAdjust="spacingAndGlyphs">10</text>
<text x="38.2" y="194.6" font-size="10.4" text-anchor="end" textLength="13.2" lengthAdjust="spacingAndGlyphs">15</text>
<text x="38.2" y="156.6" font-size="10.4" text-anchor="end" textLength="13.2" lengthAdjust="spacingAndGlyphs">20</text>
<text x="38.2" y="118.6" font-size="10.4" text-anchor="end" textLength="13.2" lengthAdjust="spacingAndGlyphs">25</text>
<text x="38.2" y="80.6" font-size="10.4" text-anchor="end" textLength="13.2" lengthAdjust="spacingAndGlyphs">30</text>
<text x="38.2" y="42.6" font-size="10.4" text-anchor="end" textLength="13.2" lengthAdjust="spacingAndGlyphs">35</text>
<text x="178.7" y="20.4" font-size="27" text-anchor="middle" textLength="186" lengthAdjust="spacingAndGlyphs">Apollo Temple</text>
<text x="458.8" y="20.4" font-size="27" text-anchor="middle" textLength="184" lengthAdjust="spacingAndGlyphs">Wallace Butte</text>
<text x="631.9" y="22.4" font-size="18.8" text-anchor="middle" textLength="107.5" lengthAdjust="spacingAndGlyphs">Ni (rel. ab.)</text>
<text x="178.9" y="356.0" font-size="21.6" text-anchor="middle" textLength="89.6" lengthAdjust="spacingAndGlyphs">wt. % Fe</text>
<text x="458.8" y="356.0" font-size="21.6" text-anchor="middle" textLength="96.5" lengthAdjust="spacingAndGlyphs">wt. % Mg</text>
<text transform="translate(17.3 175.0) rotate(-90)" font-size="22" text-anchor="middle" textLength="77.5" lengthAdjust="spacingAndGlyphs">wt. % S</text>
<text x="272.0" y="293.3" font-size="26" text-anchor="start" textLength="24.2" lengthAdjust="spacingAndGlyphs" font-weight="bold">a)</text>
<text x="551.2" y="293.6" font-size="26" text-anchor="start" textLength="25.6" lengthAdjust="spacingAndGlyphs" font-weight="bold">b)</text>
<rect x="53.2" y="38.0" width="96.2" height="58.9" rx="2.2" fill="#fff" fill-opacity="0.8" stroke="#ccc" stroke-opacity="0.9" stroke-width="1"/>
<path d="M57.8 48.3h24" stroke="#417ebc" stroke-width="1.6" stroke-dasharray="5.9 2.6" fill="none"/>
<text x="94.0" y="52.6" font-size="12.5" text-anchor="start" textLength="36.2" lengthAdjust="spacingAndGlyphs">Pyrite</text>
<path d="M57.8 66.8h24" stroke="#dea32c" stroke-width="1.6" stroke-dasharray="5.9 2.6" fill="none"/>
<text x="94.0" y="71.2" font-size="12.5" text-anchor="start" textLength="49.8" lengthAdjust="spacingAndGlyphs">Greigite</text>
<path d="M57.8 85.4h24" stroke="#3db67c" stroke-width="1.6" stroke-dasharray="5.9 2.6" fill="none"/>
<text x="94.0" y="89.7" font-size="12.5" text-anchor="start" textLength="46.5" lengthAdjust="spacingAndGlyphs">Jarosite</text>
<rect x="482.7" y="38.0" width="102.1" height="22.1" rx="2.2" fill="#fff" fill-opacity="0.8" stroke="#ccc" stroke-opacity="0.9" stroke-width="1"/>
<path d="M487.8 48.1h24" stroke="#d4571f" stroke-width="1.6" stroke-dasharray="5.9 2.6" fill="none"/>
<text x="523.6" y="52.7" font-size="12.5" text-anchor="start" textLength="56" lengthAdjust="spacingAndGlyphs">Kieserite</text>
<rect x="621" y="36.8" width="14.6" height="280" fill="url(#cg)" stroke="#222" stroke-width="1"/>
<text x="641.0" y="43.9" font-size="12.5" text-anchor="start" textLength="27.3" lengthAdjust="spacingAndGlyphs">high</text>
<text x="644.4" y="315.6" font-size="12.5" text-anchor="start" textLength="20.8" lengthAdjust="spacingAndGlyphs">low</text>
</svg></body></html>
